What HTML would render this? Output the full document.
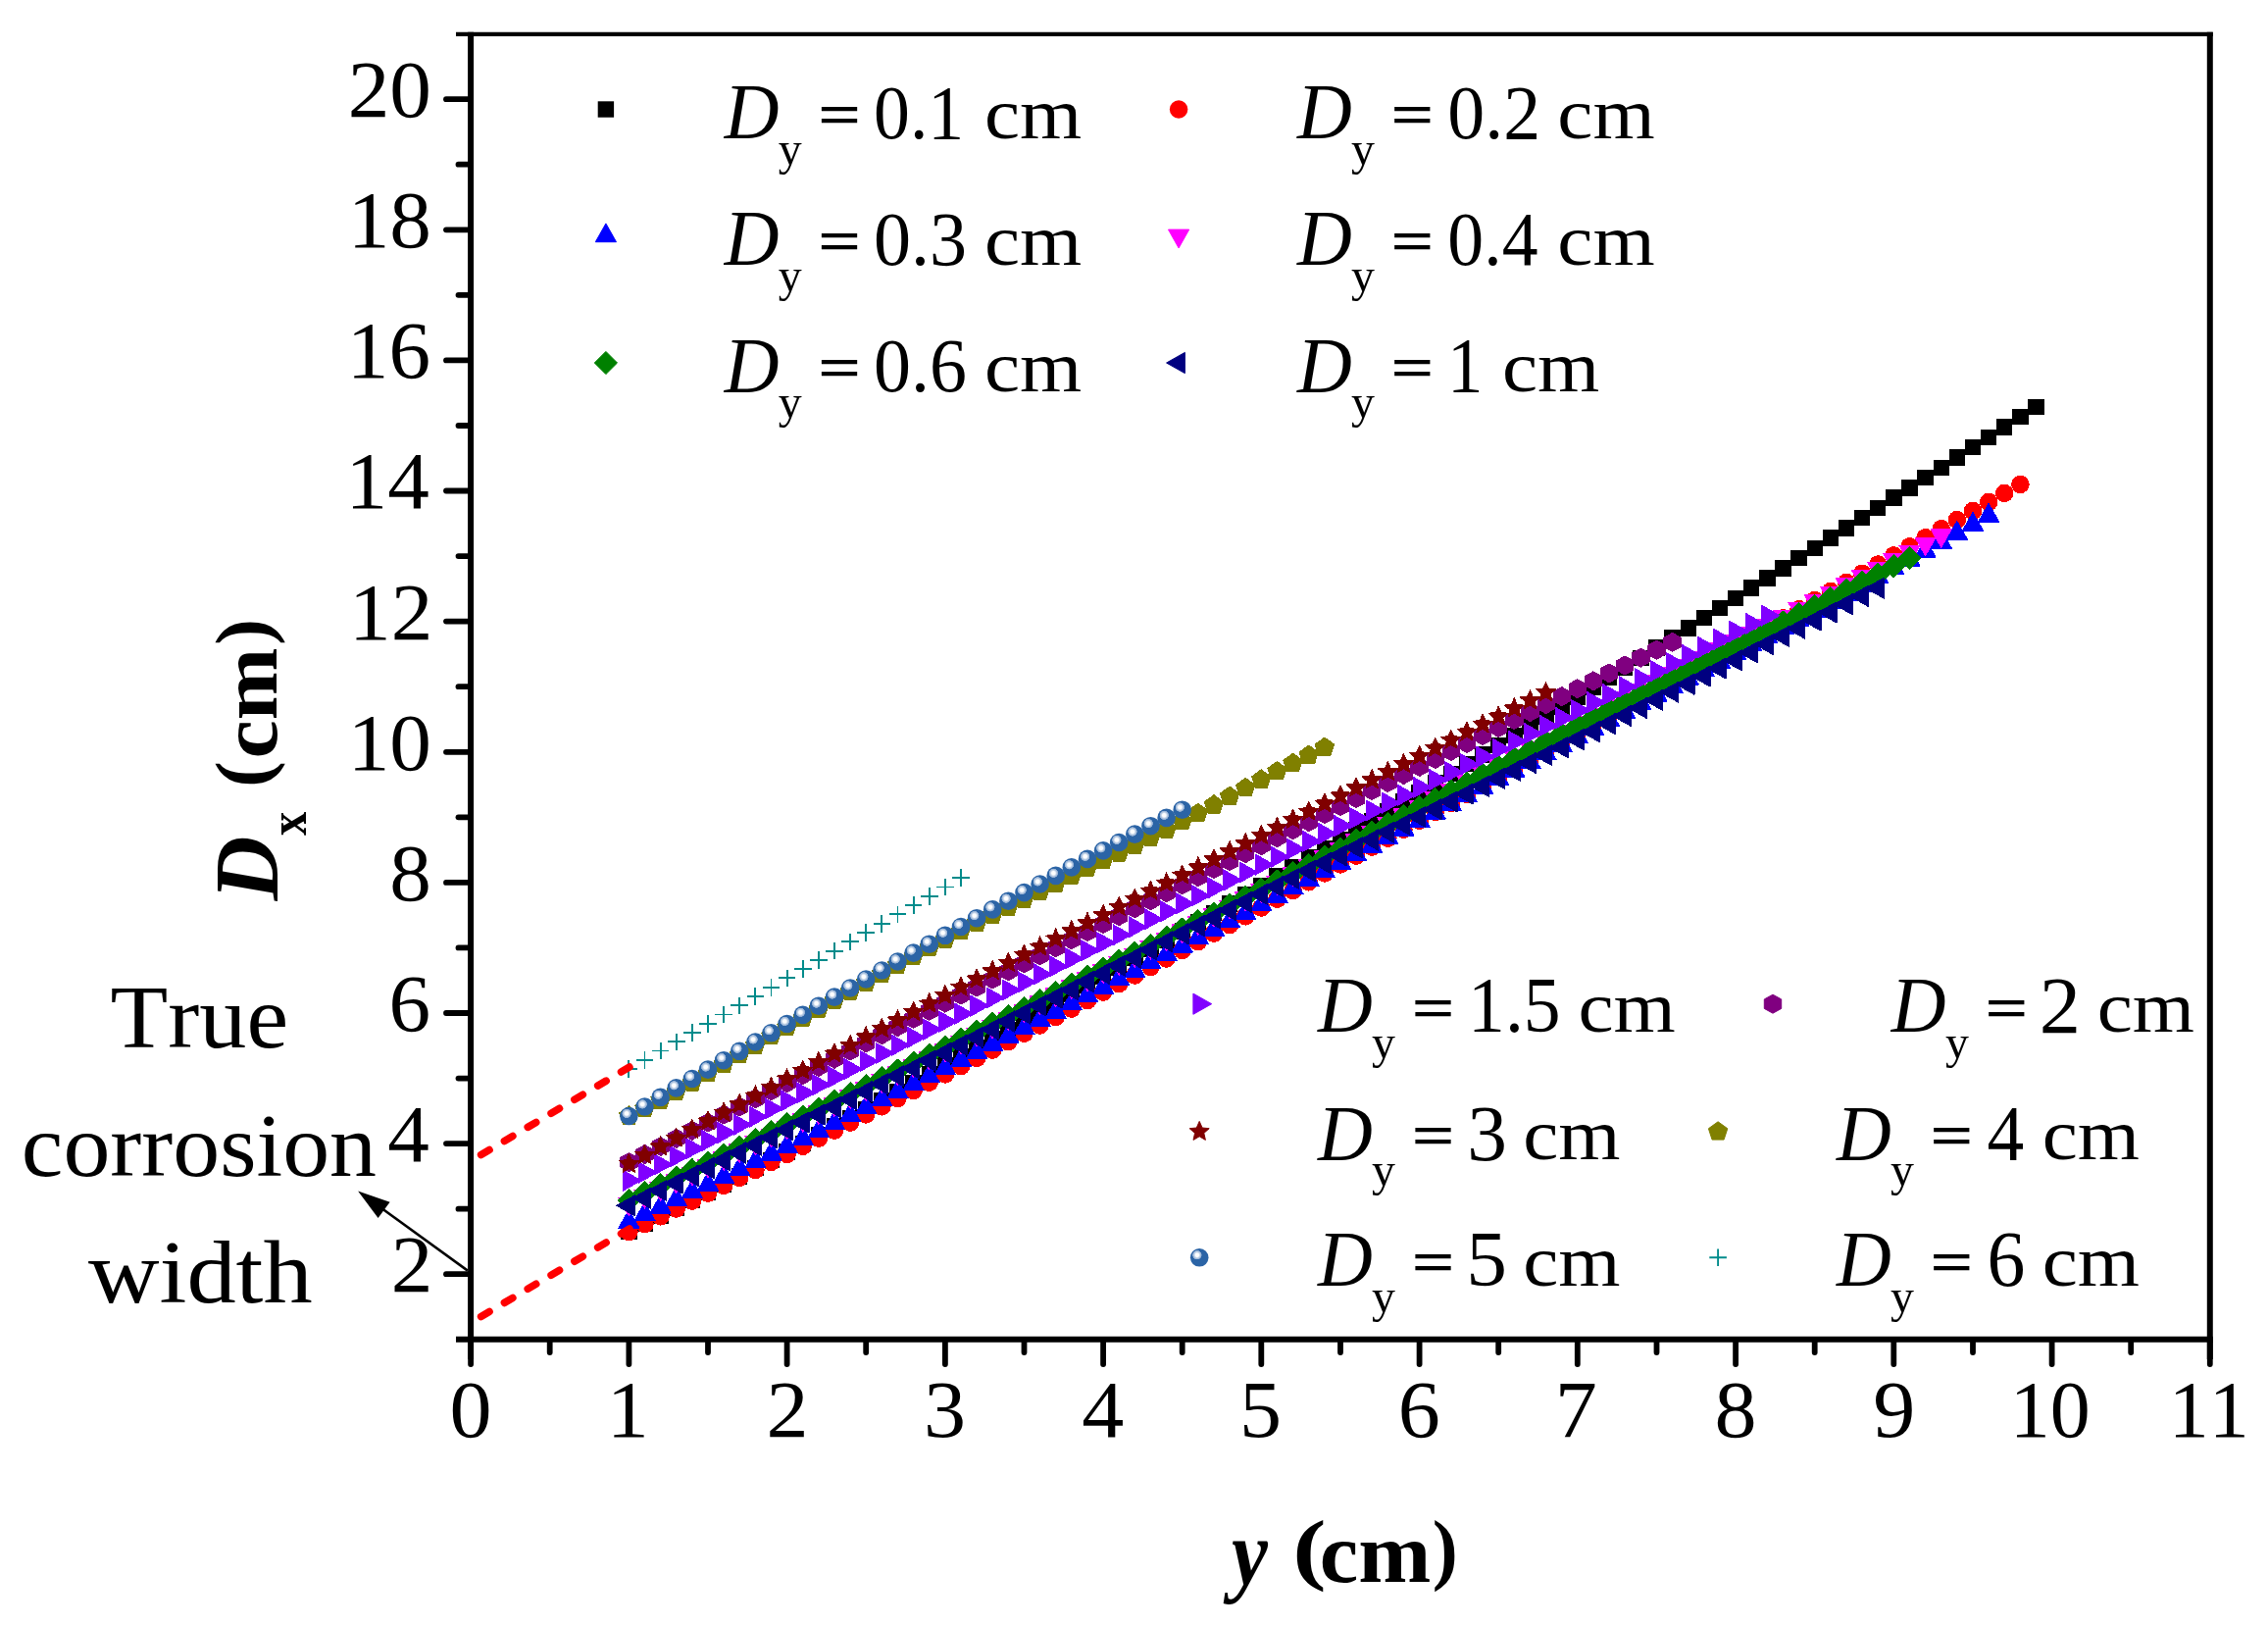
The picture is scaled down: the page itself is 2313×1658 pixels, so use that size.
<!DOCTYPE html>
<html><head><meta charset="utf-8"><title>Dx vs y</title>
<style>html,body{margin:0;padding:0;background:#fff}svg{display:block;font-family:"Liberation Serif",serif;font-kerning:none}</style></head><body>
<svg width="2313" height="1658" viewBox="0 0 2313 1658">
<rect width="2313" height="1658" fill="#fff"/>
<defs><radialGradient id="sg" gradientUnits="objectBoundingBox" cx="0.375" cy="0.36" r="0.26" fx="0.375" fy="0.36"><stop offset="0" stop-color="#ffffff"/><stop offset="0.38" stop-color="#fafcfe"/><stop offset="0.5" stop-color="#dbe5f1"/><stop offset="0.7" stop-color="#b0c5e0"/><stop offset="0.92" stop-color="#8eacd2"/><stop offset="1" stop-color="#2b64a6"/></radialGradient></defs>
<g shape-rendering="crispEdges">
<g><rect x="633.1" y="1247.4" width="16.4" height="16.4" fill="#000000"/><rect x="649.3" y="1239.6" width="16.4" height="16.4" fill="#000000"/><rect x="665.4" y="1231.8" width="16.4" height="16.4" fill="#000000"/><rect x="681.5" y="1223.8" width="16.4" height="16.4" fill="#000000"/><rect x="697.6" y="1215.8" width="16.4" height="16.4" fill="#000000"/><rect x="713.8" y="1207.7" width="16.4" height="16.4" fill="#000000"/><rect x="729.9" y="1199.5" width="16.4" height="16.4" fill="#000000"/><rect x="746.0" y="1191.3" width="16.4" height="16.4" fill="#000000"/><rect x="762.1" y="1183.0" width="16.4" height="16.4" fill="#000000"/><rect x="778.3" y="1174.7" width="16.4" height="16.4" fill="#000000"/><rect x="794.4" y="1166.2" width="16.4" height="16.4" fill="#000000"/><rect x="810.5" y="1157.7" width="16.4" height="16.4" fill="#000000"/><rect x="826.7" y="1149.1" width="16.4" height="16.4" fill="#000000"/><rect x="842.8" y="1140.4" width="16.4" height="16.4" fill="#000000"/><rect x="858.9" y="1131.6" width="16.4" height="16.4" fill="#000000"/><rect x="875.0" y="1122.8" width="16.4" height="16.4" fill="#000000"/><rect x="891.1" y="1113.9" width="16.4" height="16.4" fill="#000000"/><rect x="907.3" y="1105.0" width="16.4" height="16.4" fill="#000000"/><rect x="923.4" y="1096.0" width="16.4" height="16.4" fill="#000000"/><rect x="939.5" y="1087.0" width="16.4" height="16.4" fill="#000000"/><rect x="955.6" y="1078.0" width="16.4" height="16.4" fill="#000000"/><rect x="971.8" y="1069.1" width="16.4" height="16.4" fill="#000000"/><rect x="987.9" y="1060.1" width="16.4" height="16.4" fill="#000000"/><rect x="1004.0" y="1051.0" width="16.4" height="16.4" fill="#000000"/><rect x="1020.2" y="1042.0" width="16.4" height="16.4" fill="#000000"/><rect x="1036.3" y="1032.9" width="16.4" height="16.4" fill="#000000"/><rect x="1052.4" y="1023.9" width="16.4" height="16.4" fill="#000000"/><rect x="1068.5" y="1014.8" width="16.4" height="16.4" fill="#000000"/><rect x="1084.6" y="1005.6" width="16.4" height="16.4" fill="#000000"/><rect x="1100.8" y="996.5" width="16.4" height="16.4" fill="#000000"/><rect x="1116.9" y="987.3" width="16.4" height="16.4" fill="#000000"/><rect x="1133.0" y="978.2" width="16.4" height="16.4" fill="#000000"/><rect x="1149.1" y="969.0" width="16.4" height="16.4" fill="#000000"/><rect x="1165.3" y="959.7" width="16.4" height="16.4" fill="#000000"/><rect x="1181.4" y="950.5" width="16.4" height="16.4" fill="#000000"/><rect x="1197.5" y="941.2" width="16.4" height="16.4" fill="#000000"/><rect x="1213.6" y="932.0" width="16.4" height="16.4" fill="#000000"/><rect x="1229.8" y="922.7" width="16.4" height="16.4" fill="#000000"/><rect x="1245.9" y="913.3" width="16.4" height="16.4" fill="#000000"/><rect x="1262.0" y="904.0" width="16.4" height="16.4" fill="#000000"/><rect x="1278.1" y="894.6" width="16.4" height="16.4" fill="#000000"/><rect x="1294.3" y="885.2" width="16.4" height="16.4" fill="#000000"/><rect x="1310.4" y="875.8" width="16.4" height="16.4" fill="#000000"/><rect x="1326.5" y="866.4" width="16.4" height="16.4" fill="#000000"/><rect x="1342.7" y="856.9" width="16.4" height="16.4" fill="#000000"/><rect x="1358.8" y="847.5" width="16.4" height="16.4" fill="#000000"/><rect x="1374.9" y="838.0" width="16.4" height="16.4" fill="#000000"/><rect x="1391.0" y="828.5" width="16.4" height="16.4" fill="#000000"/><rect x="1407.2" y="819.0" width="16.4" height="16.4" fill="#000000"/><rect x="1423.3" y="809.4" width="16.4" height="16.4" fill="#000000"/><rect x="1439.4" y="799.9" width="16.4" height="16.4" fill="#000000"/><rect x="1455.5" y="790.3" width="16.4" height="16.4" fill="#000000"/><rect x="1471.6" y="780.6" width="16.4" height="16.4" fill="#000000"/><rect x="1487.8" y="771.0" width="16.4" height="16.4" fill="#000000"/><rect x="1503.9" y="761.3" width="16.4" height="16.4" fill="#000000"/><rect x="1520.0" y="751.6" width="16.4" height="16.4" fill="#000000"/><rect x="1536.1" y="741.9" width="16.4" height="16.4" fill="#000000"/><rect x="1552.3" y="732.1" width="16.4" height="16.4" fill="#000000"/><rect x="1568.4" y="722.3" width="16.4" height="16.4" fill="#000000"/><rect x="1584.5" y="712.5" width="16.4" height="16.4" fill="#000000"/><rect x="1600.6" y="702.6" width="16.4" height="16.4" fill="#000000"/><rect x="1616.8" y="692.7" width="16.4" height="16.4" fill="#000000"/><rect x="1632.9" y="682.7" width="16.4" height="16.4" fill="#000000"/><rect x="1649.0" y="672.7" width="16.4" height="16.4" fill="#000000"/><rect x="1665.1" y="662.6" width="16.4" height="16.4" fill="#000000"/><rect x="1681.3" y="652.4" width="16.4" height="16.4" fill="#000000"/><rect x="1697.4" y="642.3" width="16.4" height="16.4" fill="#000000"/><rect x="1713.5" y="632.1" width="16.4" height="16.4" fill="#000000"/><rect x="1729.7" y="621.9" width="16.4" height="16.4" fill="#000000"/><rect x="1745.8" y="611.8" width="16.4" height="16.4" fill="#000000"/><rect x="1761.9" y="601.6" width="16.4" height="16.4" fill="#000000"/><rect x="1778.0" y="591.4" width="16.4" height="16.4" fill="#000000"/><rect x="1794.1" y="581.2" width="16.4" height="16.4" fill="#000000"/><rect x="1810.3" y="571.1" width="16.4" height="16.4" fill="#000000"/><rect x="1826.4" y="560.8" width="16.4" height="16.4" fill="#000000"/><rect x="1842.5" y="550.6" width="16.4" height="16.4" fill="#000000"/><rect x="1858.7" y="540.4" width="16.4" height="16.4" fill="#000000"/><rect x="1874.8" y="530.2" width="16.4" height="16.4" fill="#000000"/><rect x="1890.9" y="519.9" width="16.4" height="16.4" fill="#000000"/><rect x="1907.0" y="509.7" width="16.4" height="16.4" fill="#000000"/><rect x="1923.1" y="499.4" width="16.4" height="16.4" fill="#000000"/><rect x="1939.3" y="489.1" width="16.4" height="16.4" fill="#000000"/><rect x="1955.4" y="478.8" width="16.4" height="16.4" fill="#000000"/><rect x="1971.5" y="468.5" width="16.4" height="16.4" fill="#000000"/><rect x="1987.6" y="458.2" width="16.4" height="16.4" fill="#000000"/><rect x="2003.8" y="447.9" width="16.4" height="16.4" fill="#000000"/><rect x="2019.9" y="437.6" width="16.4" height="16.4" fill="#000000"/><rect x="2036.0" y="427.2" width="16.4" height="16.4" fill="#000000"/><rect x="2052.2" y="416.8" width="16.4" height="16.4" fill="#000000"/><rect x="2068.3" y="406.5" width="16.4" height="16.4" fill="#000000"/></g>
<g><circle cx="641.4" cy="1256.0" r="9.25" fill="#ff0000"/><circle cx="657.5" cy="1248.2" r="9.25" fill="#ff0000"/><circle cx="673.6" cy="1240.3" r="9.25" fill="#ff0000"/><circle cx="689.7" cy="1232.5" r="9.25" fill="#ff0000"/><circle cx="705.9" cy="1224.6" r="9.25" fill="#ff0000"/><circle cx="722.0" cy="1216.7" r="9.25" fill="#ff0000"/><circle cx="738.1" cy="1208.8" r="9.25" fill="#ff0000"/><circle cx="754.2" cy="1200.8" r="9.25" fill="#ff0000"/><circle cx="770.4" cy="1192.9" r="9.25" fill="#ff0000"/><circle cx="786.5" cy="1184.9" r="9.25" fill="#ff0000"/><circle cx="802.6" cy="1176.9" r="9.25" fill="#ff0000"/><circle cx="818.7" cy="1168.8" r="9.25" fill="#ff0000"/><circle cx="834.9" cy="1160.7" r="9.25" fill="#ff0000"/><circle cx="851.0" cy="1152.7" r="9.25" fill="#ff0000"/><circle cx="867.1" cy="1144.6" r="9.25" fill="#ff0000"/><circle cx="883.2" cy="1136.4" r="9.25" fill="#ff0000"/><circle cx="899.4" cy="1128.3" r="9.25" fill="#ff0000"/><circle cx="915.5" cy="1120.1" r="9.25" fill="#ff0000"/><circle cx="931.6" cy="1111.9" r="9.25" fill="#ff0000"/><circle cx="947.7" cy="1103.7" r="9.25" fill="#ff0000"/><circle cx="963.9" cy="1095.4" r="9.25" fill="#ff0000"/><circle cx="980.0" cy="1087.2" r="9.25" fill="#ff0000"/><circle cx="996.1" cy="1078.9" r="9.25" fill="#ff0000"/><circle cx="1012.2" cy="1070.6" r="9.25" fill="#ff0000"/><circle cx="1028.4" cy="1062.2" r="9.25" fill="#ff0000"/><circle cx="1044.5" cy="1053.8" r="9.25" fill="#ff0000"/><circle cx="1060.6" cy="1045.5" r="9.25" fill="#ff0000"/><circle cx="1076.7" cy="1037.0" r="9.25" fill="#ff0000"/><circle cx="1092.8" cy="1028.6" r="9.25" fill="#ff0000"/><circle cx="1109.0" cy="1020.1" r="9.25" fill="#ff0000"/><circle cx="1125.1" cy="1011.6" r="9.25" fill="#ff0000"/><circle cx="1141.2" cy="1003.1" r="9.25" fill="#ff0000"/><circle cx="1157.3" cy="994.6" r="9.25" fill="#ff0000"/><circle cx="1173.5" cy="986.0" r="9.25" fill="#ff0000"/><circle cx="1189.6" cy="977.5" r="9.25" fill="#ff0000"/><circle cx="1205.7" cy="968.9" r="9.25" fill="#ff0000"/><circle cx="1221.8" cy="960.3" r="9.25" fill="#ff0000"/><circle cx="1238.0" cy="951.6" r="9.25" fill="#ff0000"/><circle cx="1254.1" cy="943.0" r="9.25" fill="#ff0000"/><circle cx="1270.2" cy="934.3" r="9.25" fill="#ff0000"/><circle cx="1286.3" cy="925.6" r="9.25" fill="#ff0000"/><circle cx="1302.5" cy="916.8" r="9.25" fill="#ff0000"/><circle cx="1318.6" cy="908.1" r="9.25" fill="#ff0000"/><circle cx="1334.7" cy="899.3" r="9.25" fill="#ff0000"/><circle cx="1350.9" cy="890.4" r="9.25" fill="#ff0000"/><circle cx="1367.0" cy="881.5" r="9.25" fill="#ff0000"/><circle cx="1383.1" cy="872.6" r="9.25" fill="#ff0000"/><circle cx="1399.2" cy="863.7" r="9.25" fill="#ff0000"/><circle cx="1415.4" cy="854.7" r="9.25" fill="#ff0000"/><circle cx="1431.5" cy="845.8" r="9.25" fill="#ff0000"/><circle cx="1447.6" cy="836.8" r="9.25" fill="#ff0000"/><circle cx="1463.7" cy="827.8" r="9.25" fill="#ff0000"/><circle cx="1479.8" cy="818.8" r="9.25" fill="#ff0000"/><circle cx="1496.0" cy="809.8" r="9.25" fill="#ff0000"/><circle cx="1512.1" cy="800.7" r="9.25" fill="#ff0000"/><circle cx="1528.2" cy="791.7" r="9.25" fill="#ff0000"/><circle cx="1544.3" cy="782.7" r="9.25" fill="#ff0000"/><circle cx="1560.5" cy="773.7" r="9.25" fill="#ff0000"/><circle cx="1576.6" cy="764.7" r="9.25" fill="#ff0000"/><circle cx="1592.7" cy="755.8" r="9.25" fill="#ff0000"/><circle cx="1608.8" cy="746.8" r="9.25" fill="#ff0000"/><circle cx="1625.0" cy="737.8" r="9.25" fill="#ff0000"/><circle cx="1641.1" cy="728.9" r="9.25" fill="#ff0000"/><circle cx="1657.2" cy="720.0" r="9.25" fill="#ff0000"/><circle cx="1673.3" cy="711.0" r="9.25" fill="#ff0000"/><circle cx="1689.5" cy="702.1" r="9.25" fill="#ff0000"/><circle cx="1705.6" cy="693.2" r="9.25" fill="#ff0000"/><circle cx="1721.7" cy="684.2" r="9.25" fill="#ff0000"/><circle cx="1737.9" cy="675.3" r="9.25" fill="#ff0000"/><circle cx="1754.0" cy="666.3" r="9.25" fill="#ff0000"/><circle cx="1770.1" cy="657.4" r="9.25" fill="#ff0000"/><circle cx="1786.2" cy="648.4" r="9.25" fill="#ff0000"/><circle cx="1802.3" cy="639.4" r="9.25" fill="#ff0000"/><circle cx="1818.5" cy="630.3" r="9.25" fill="#ff0000"/><circle cx="1834.6" cy="621.2" r="9.25" fill="#ff0000"/><circle cx="1850.7" cy="612.1" r="9.25" fill="#ff0000"/><circle cx="1866.9" cy="603.0" r="9.25" fill="#ff0000"/><circle cx="1883.0" cy="593.8" r="9.25" fill="#ff0000"/><circle cx="1899.1" cy="584.7" r="9.25" fill="#ff0000"/><circle cx="1915.2" cy="575.5" r="9.25" fill="#ff0000"/><circle cx="1931.3" cy="566.4" r="9.25" fill="#ff0000"/><circle cx="1947.5" cy="557.3" r="9.25" fill="#ff0000"/><circle cx="1963.6" cy="548.2" r="9.25" fill="#ff0000"/><circle cx="1979.7" cy="539.2" r="9.25" fill="#ff0000"/><circle cx="1995.8" cy="530.1" r="9.25" fill="#ff0000"/><circle cx="2012.0" cy="521.0" r="9.25" fill="#ff0000"/><circle cx="2028.1" cy="512.0" r="9.25" fill="#ff0000"/><circle cx="2044.2" cy="502.9" r="9.25" fill="#ff0000"/><circle cx="2060.4" cy="493.9" r="9.25" fill="#ff0000"/></g>
<g><polygon points="641.4,1233.5 630.8,1252.3 652.0,1252.3" fill="#0000ff" stroke="#0000ff" stroke-width="1" stroke-linejoin="round"/><polygon points="657.5,1225.9 646.9,1244.7 668.1,1244.7" fill="#0000ff" stroke="#0000ff" stroke-width="1" stroke-linejoin="round"/><polygon points="673.6,1218.3 663.0,1237.1 684.2,1237.1" fill="#0000ff" stroke="#0000ff" stroke-width="1" stroke-linejoin="round"/><polygon points="689.7,1210.6 679.1,1229.4 700.3,1229.4" fill="#0000ff" stroke="#0000ff" stroke-width="1" stroke-linejoin="round"/><polygon points="705.9,1203.0 695.2,1221.8 716.5,1221.8" fill="#0000ff" stroke="#0000ff" stroke-width="1" stroke-linejoin="round"/><polygon points="722.0,1195.3 711.4,1214.1 732.6,1214.1" fill="#0000ff" stroke="#0000ff" stroke-width="1" stroke-linejoin="round"/><polygon points="738.1,1187.6 727.5,1206.4 748.7,1206.4" fill="#0000ff" stroke="#0000ff" stroke-width="1" stroke-linejoin="round"/><polygon points="754.2,1179.8 743.6,1198.6 764.8,1198.6" fill="#0000ff" stroke="#0000ff" stroke-width="1" stroke-linejoin="round"/><polygon points="770.4,1172.1 759.8,1190.9 781.0,1190.9" fill="#0000ff" stroke="#0000ff" stroke-width="1" stroke-linejoin="round"/><polygon points="786.5,1164.3 775.9,1183.1 797.1,1183.1" fill="#0000ff" stroke="#0000ff" stroke-width="1" stroke-linejoin="round"/><polygon points="802.6,1156.5 792.0,1175.3 813.2,1175.3" fill="#0000ff" stroke="#0000ff" stroke-width="1" stroke-linejoin="round"/><polygon points="818.7,1148.6 808.1,1167.4 829.3,1167.4" fill="#0000ff" stroke="#0000ff" stroke-width="1" stroke-linejoin="round"/><polygon points="834.9,1140.8 824.3,1159.6 845.5,1159.6" fill="#0000ff" stroke="#0000ff" stroke-width="1" stroke-linejoin="round"/><polygon points="851.0,1132.9 840.4,1151.7 861.6,1151.7" fill="#0000ff" stroke="#0000ff" stroke-width="1" stroke-linejoin="round"/><polygon points="867.1,1124.9 856.5,1143.7 877.7,1143.7" fill="#0000ff" stroke="#0000ff" stroke-width="1" stroke-linejoin="round"/><polygon points="883.2,1117.0 872.6,1135.8 893.8,1135.8" fill="#0000ff" stroke="#0000ff" stroke-width="1" stroke-linejoin="round"/><polygon points="899.4,1109.0 888.8,1127.8 910.0,1127.8" fill="#0000ff" stroke="#0000ff" stroke-width="1" stroke-linejoin="round"/><polygon points="915.5,1101.0 904.9,1119.8 926.1,1119.8" fill="#0000ff" stroke="#0000ff" stroke-width="1" stroke-linejoin="round"/><polygon points="931.6,1093.0 921.0,1111.8 942.2,1111.8" fill="#0000ff" stroke="#0000ff" stroke-width="1" stroke-linejoin="round"/><polygon points="947.7,1085.0 937.1,1103.8 958.3,1103.8" fill="#0000ff" stroke="#0000ff" stroke-width="1" stroke-linejoin="round"/><polygon points="963.9,1076.9 953.2,1095.7 974.5,1095.7" fill="#0000ff" stroke="#0000ff" stroke-width="1" stroke-linejoin="round"/><polygon points="980.0,1068.8 969.4,1087.6 990.6,1087.6" fill="#0000ff" stroke="#0000ff" stroke-width="1" stroke-linejoin="round"/><polygon points="996.1,1060.7 985.5,1079.5 1006.7,1079.5" fill="#0000ff" stroke="#0000ff" stroke-width="1" stroke-linejoin="round"/><polygon points="1012.2,1052.5 1001.6,1071.3 1022.8,1071.3" fill="#0000ff" stroke="#0000ff" stroke-width="1" stroke-linejoin="round"/><polygon points="1028.4,1044.3 1017.8,1063.1 1039.0,1063.1" fill="#0000ff" stroke="#0000ff" stroke-width="1" stroke-linejoin="round"/><polygon points="1044.5,1036.0 1033.9,1054.8 1055.1,1054.8" fill="#0000ff" stroke="#0000ff" stroke-width="1" stroke-linejoin="round"/><polygon points="1060.6,1027.7 1050.0,1046.5 1071.2,1046.5" fill="#0000ff" stroke="#0000ff" stroke-width="1" stroke-linejoin="round"/><polygon points="1076.7,1019.4 1066.1,1038.2 1087.3,1038.2" fill="#0000ff" stroke="#0000ff" stroke-width="1" stroke-linejoin="round"/><polygon points="1092.8,1011.1 1082.2,1029.9 1103.4,1029.9" fill="#0000ff" stroke="#0000ff" stroke-width="1" stroke-linejoin="round"/><polygon points="1109.0,1002.7 1098.4,1021.5 1119.6,1021.5" fill="#0000ff" stroke="#0000ff" stroke-width="1" stroke-linejoin="round"/><polygon points="1125.1,994.4 1114.5,1013.2 1135.7,1013.2" fill="#0000ff" stroke="#0000ff" stroke-width="1" stroke-linejoin="round"/><polygon points="1141.2,986.0 1130.6,1004.8 1151.8,1004.8" fill="#0000ff" stroke="#0000ff" stroke-width="1" stroke-linejoin="round"/><polygon points="1157.3,977.6 1146.8,996.4 1167.9,996.4" fill="#0000ff" stroke="#0000ff" stroke-width="1" stroke-linejoin="round"/><polygon points="1173.5,969.1 1162.9,987.9 1184.1,987.9" fill="#0000ff" stroke="#0000ff" stroke-width="1" stroke-linejoin="round"/><polygon points="1189.6,960.7 1179.0,979.5 1200.2,979.5" fill="#0000ff" stroke="#0000ff" stroke-width="1" stroke-linejoin="round"/><polygon points="1205.7,952.2 1195.1,971.0 1216.3,971.0" fill="#0000ff" stroke="#0000ff" stroke-width="1" stroke-linejoin="round"/><polygon points="1221.8,943.8 1211.2,962.6 1232.4,962.6" fill="#0000ff" stroke="#0000ff" stroke-width="1" stroke-linejoin="round"/><polygon points="1238.0,935.3 1227.4,954.1 1248.6,954.1" fill="#0000ff" stroke="#0000ff" stroke-width="1" stroke-linejoin="round"/><polygon points="1254.1,926.9 1243.5,945.7 1264.7,945.7" fill="#0000ff" stroke="#0000ff" stroke-width="1" stroke-linejoin="round"/><polygon points="1270.2,918.4 1259.6,937.2 1280.8,937.2" fill="#0000ff" stroke="#0000ff" stroke-width="1" stroke-linejoin="round"/><polygon points="1286.3,910.0 1275.8,928.8 1296.9,928.8" fill="#0000ff" stroke="#0000ff" stroke-width="1" stroke-linejoin="round"/><polygon points="1302.5,901.5 1291.9,920.3 1313.1,920.3" fill="#0000ff" stroke="#0000ff" stroke-width="1" stroke-linejoin="round"/><polygon points="1318.6,893.0 1308.0,911.8 1329.2,911.8" fill="#0000ff" stroke="#0000ff" stroke-width="1" stroke-linejoin="round"/><polygon points="1334.7,884.6 1324.1,903.4 1345.3,903.4" fill="#0000ff" stroke="#0000ff" stroke-width="1" stroke-linejoin="round"/><polygon points="1350.9,876.0 1340.3,894.8 1361.5,894.8" fill="#0000ff" stroke="#0000ff" stroke-width="1" stroke-linejoin="round"/><polygon points="1367.0,867.5 1356.4,886.3 1377.6,886.3" fill="#0000ff" stroke="#0000ff" stroke-width="1" stroke-linejoin="round"/><polygon points="1383.1,859.0 1372.5,877.8 1393.7,877.8" fill="#0000ff" stroke="#0000ff" stroke-width="1" stroke-linejoin="round"/><polygon points="1399.2,850.4 1388.6,869.2 1409.8,869.2" fill="#0000ff" stroke="#0000ff" stroke-width="1" stroke-linejoin="round"/><polygon points="1415.4,841.9 1404.8,860.7 1426.0,860.7" fill="#0000ff" stroke="#0000ff" stroke-width="1" stroke-linejoin="round"/><polygon points="1431.5,833.3 1420.9,852.1 1442.1,852.1" fill="#0000ff" stroke="#0000ff" stroke-width="1" stroke-linejoin="round"/><polygon points="1447.6,824.7 1437.0,843.5 1458.2,843.5" fill="#0000ff" stroke="#0000ff" stroke-width="1" stroke-linejoin="round"/><polygon points="1463.7,816.2 1453.1,835.0 1474.3,835.0" fill="#0000ff" stroke="#0000ff" stroke-width="1" stroke-linejoin="round"/><polygon points="1479.8,807.6 1469.2,826.4 1490.4,826.4" fill="#0000ff" stroke="#0000ff" stroke-width="1" stroke-linejoin="round"/><polygon points="1496.0,799.0 1485.4,817.8 1506.6,817.8" fill="#0000ff" stroke="#0000ff" stroke-width="1" stroke-linejoin="round"/><polygon points="1512.1,790.4 1501.5,809.2 1522.7,809.2" fill="#0000ff" stroke="#0000ff" stroke-width="1" stroke-linejoin="round"/><polygon points="1528.2,781.8 1517.6,800.6 1538.8,800.6" fill="#0000ff" stroke="#0000ff" stroke-width="1" stroke-linejoin="round"/><polygon points="1544.3,773.2 1533.8,792.0 1554.9,792.0" fill="#0000ff" stroke="#0000ff" stroke-width="1" stroke-linejoin="round"/><polygon points="1560.5,764.6 1549.9,783.4 1571.1,783.4" fill="#0000ff" stroke="#0000ff" stroke-width="1" stroke-linejoin="round"/><polygon points="1576.6,756.1 1566.0,774.9 1587.2,774.9" fill="#0000ff" stroke="#0000ff" stroke-width="1" stroke-linejoin="round"/><polygon points="1592.7,747.5 1582.1,766.3 1603.3,766.3" fill="#0000ff" stroke="#0000ff" stroke-width="1" stroke-linejoin="round"/><polygon points="1608.8,738.9 1598.2,757.7 1619.4,757.7" fill="#0000ff" stroke="#0000ff" stroke-width="1" stroke-linejoin="round"/><polygon points="1625.0,730.4 1614.4,749.2 1635.6,749.2" fill="#0000ff" stroke="#0000ff" stroke-width="1" stroke-linejoin="round"/><polygon points="1641.1,721.8 1630.5,740.6 1651.7,740.6" fill="#0000ff" stroke="#0000ff" stroke-width="1" stroke-linejoin="round"/><polygon points="1657.2,713.3 1646.6,732.1 1667.8,732.1" fill="#0000ff" stroke="#0000ff" stroke-width="1" stroke-linejoin="round"/><polygon points="1673.3,704.8 1662.8,723.6 1683.9,723.6" fill="#0000ff" stroke="#0000ff" stroke-width="1" stroke-linejoin="round"/><polygon points="1689.5,696.2 1678.9,715.0 1700.1,715.0" fill="#0000ff" stroke="#0000ff" stroke-width="1" stroke-linejoin="round"/><polygon points="1705.6,687.7 1695.0,706.5 1716.2,706.5" fill="#0000ff" stroke="#0000ff" stroke-width="1" stroke-linejoin="round"/><polygon points="1721.7,679.2 1711.1,698.0 1732.3,698.0" fill="#0000ff" stroke="#0000ff" stroke-width="1" stroke-linejoin="round"/><polygon points="1737.9,670.7 1727.3,689.5 1748.5,689.5" fill="#0000ff" stroke="#0000ff" stroke-width="1" stroke-linejoin="round"/><polygon points="1754.0,662.2 1743.4,681.0 1764.6,681.0" fill="#0000ff" stroke="#0000ff" stroke-width="1" stroke-linejoin="round"/><polygon points="1770.1,653.6 1759.5,672.4 1780.7,672.4" fill="#0000ff" stroke="#0000ff" stroke-width="1" stroke-linejoin="round"/><polygon points="1786.2,645.1 1775.6,663.9 1796.8,663.9" fill="#0000ff" stroke="#0000ff" stroke-width="1" stroke-linejoin="round"/><polygon points="1802.3,636.5 1791.8,655.3 1812.9,655.3" fill="#0000ff" stroke="#0000ff" stroke-width="1" stroke-linejoin="round"/><polygon points="1818.5,627.9 1807.9,646.7 1829.1,646.7" fill="#0000ff" stroke="#0000ff" stroke-width="1" stroke-linejoin="round"/><polygon points="1834.6,619.3 1824.0,638.1 1845.2,638.1" fill="#0000ff" stroke="#0000ff" stroke-width="1" stroke-linejoin="round"/><polygon points="1850.7,610.7 1840.1,629.5 1861.3,629.5" fill="#0000ff" stroke="#0000ff" stroke-width="1" stroke-linejoin="round"/><polygon points="1866.9,602.0 1856.3,620.8 1877.5,620.8" fill="#0000ff" stroke="#0000ff" stroke-width="1" stroke-linejoin="round"/><polygon points="1883.0,593.3 1872.4,612.1 1893.6,612.1" fill="#0000ff" stroke="#0000ff" stroke-width="1" stroke-linejoin="round"/><polygon points="1899.1,584.6 1888.5,603.4 1909.7,603.4" fill="#0000ff" stroke="#0000ff" stroke-width="1" stroke-linejoin="round"/><polygon points="1915.2,575.8 1904.6,594.6 1925.8,594.6" fill="#0000ff" stroke="#0000ff" stroke-width="1" stroke-linejoin="round"/><polygon points="1931.3,567.0 1920.8,585.8 1941.9,585.8" fill="#0000ff" stroke="#0000ff" stroke-width="1" stroke-linejoin="round"/><polygon points="1947.5,558.2 1936.9,577.0 1958.1,577.0" fill="#0000ff" stroke="#0000ff" stroke-width="1" stroke-linejoin="round"/><polygon points="1963.6,549.3 1953.0,568.1 1974.2,568.1" fill="#0000ff" stroke="#0000ff" stroke-width="1" stroke-linejoin="round"/><polygon points="1979.7,540.3 1969.1,559.1 1990.3,559.1" fill="#0000ff" stroke="#0000ff" stroke-width="1" stroke-linejoin="round"/><polygon points="1995.8,531.3 1985.2,550.1 2006.4,550.1" fill="#0000ff" stroke="#0000ff" stroke-width="1" stroke-linejoin="round"/><polygon points="2012.0,522.3 2001.4,541.1 2022.6,541.1" fill="#0000ff" stroke="#0000ff" stroke-width="1" stroke-linejoin="round"/><polygon points="2028.1,513.3 2017.5,532.1 2038.7,532.1" fill="#0000ff" stroke="#0000ff" stroke-width="1" stroke-linejoin="round"/></g>
<g><polygon points="641.4,1239.9 630.8,1221.1 652.0,1221.1" fill="#ff00ff" stroke="#ff00ff" stroke-width="1" stroke-linejoin="round"/><polygon points="657.5,1232.2 646.9,1213.4 668.1,1213.4" fill="#ff00ff" stroke="#ff00ff" stroke-width="1" stroke-linejoin="round"/><polygon points="673.6,1224.4 663.0,1205.6 684.2,1205.6" fill="#ff00ff" stroke="#ff00ff" stroke-width="1" stroke-linejoin="round"/><polygon points="689.7,1216.7 679.1,1197.9 700.3,1197.9" fill="#ff00ff" stroke="#ff00ff" stroke-width="1" stroke-linejoin="round"/><polygon points="705.9,1208.9 695.2,1190.1 716.5,1190.1" fill="#ff00ff" stroke="#ff00ff" stroke-width="1" stroke-linejoin="round"/><polygon points="722.0,1201.1 711.4,1182.3 732.6,1182.3" fill="#ff00ff" stroke="#ff00ff" stroke-width="1" stroke-linejoin="round"/><polygon points="738.1,1193.3 727.5,1174.5 748.7,1174.5" fill="#ff00ff" stroke="#ff00ff" stroke-width="1" stroke-linejoin="round"/><polygon points="754.2,1185.5 743.6,1166.7 764.8,1166.7" fill="#ff00ff" stroke="#ff00ff" stroke-width="1" stroke-linejoin="round"/><polygon points="770.4,1177.7 759.8,1158.9 781.0,1158.9" fill="#ff00ff" stroke="#ff00ff" stroke-width="1" stroke-linejoin="round"/><polygon points="786.5,1169.9 775.9,1151.1 797.1,1151.1" fill="#ff00ff" stroke="#ff00ff" stroke-width="1" stroke-linejoin="round"/><polygon points="802.6,1162.0 792.0,1143.2 813.2,1143.2" fill="#ff00ff" stroke="#ff00ff" stroke-width="1" stroke-linejoin="round"/><polygon points="818.7,1154.1 808.1,1135.3 829.3,1135.3" fill="#ff00ff" stroke="#ff00ff" stroke-width="1" stroke-linejoin="round"/><polygon points="834.9,1146.3 824.3,1127.5 845.5,1127.5" fill="#ff00ff" stroke="#ff00ff" stroke-width="1" stroke-linejoin="round"/><polygon points="851.0,1138.4 840.4,1119.6 861.6,1119.6" fill="#ff00ff" stroke="#ff00ff" stroke-width="1" stroke-linejoin="round"/><polygon points="867.1,1130.5 856.5,1111.7 877.7,1111.7" fill="#ff00ff" stroke="#ff00ff" stroke-width="1" stroke-linejoin="round"/><polygon points="883.2,1122.6 872.6,1103.8 893.8,1103.8" fill="#ff00ff" stroke="#ff00ff" stroke-width="1" stroke-linejoin="round"/><polygon points="899.4,1114.6 888.8,1095.8 910.0,1095.8" fill="#ff00ff" stroke="#ff00ff" stroke-width="1" stroke-linejoin="round"/><polygon points="915.5,1106.7 904.9,1087.9 926.1,1087.9" fill="#ff00ff" stroke="#ff00ff" stroke-width="1" stroke-linejoin="round"/><polygon points="931.6,1098.8 921.0,1080.0 942.2,1080.0" fill="#ff00ff" stroke="#ff00ff" stroke-width="1" stroke-linejoin="round"/><polygon points="947.7,1090.8 937.1,1072.0 958.3,1072.0" fill="#ff00ff" stroke="#ff00ff" stroke-width="1" stroke-linejoin="round"/><polygon points="963.9,1082.8 953.2,1064.0 974.5,1064.0" fill="#ff00ff" stroke="#ff00ff" stroke-width="1" stroke-linejoin="round"/><polygon points="980.0,1074.8 969.4,1056.0 990.6,1056.0" fill="#ff00ff" stroke="#ff00ff" stroke-width="1" stroke-linejoin="round"/><polygon points="996.1,1066.8 985.5,1048.0 1006.7,1048.0" fill="#ff00ff" stroke="#ff00ff" stroke-width="1" stroke-linejoin="round"/><polygon points="1012.2,1058.8 1001.6,1040.0 1022.8,1040.0" fill="#ff00ff" stroke="#ff00ff" stroke-width="1" stroke-linejoin="round"/><polygon points="1028.4,1050.8 1017.8,1032.0 1039.0,1032.0" fill="#ff00ff" stroke="#ff00ff" stroke-width="1" stroke-linejoin="round"/><polygon points="1044.5,1042.8 1033.9,1024.0 1055.1,1024.0" fill="#ff00ff" stroke="#ff00ff" stroke-width="1" stroke-linejoin="round"/><polygon points="1060.6,1034.7 1050.0,1015.9 1071.2,1015.9" fill="#ff00ff" stroke="#ff00ff" stroke-width="1" stroke-linejoin="round"/><polygon points="1076.7,1026.7 1066.1,1007.9 1087.3,1007.9" fill="#ff00ff" stroke="#ff00ff" stroke-width="1" stroke-linejoin="round"/><polygon points="1092.8,1018.6 1082.2,999.8 1103.4,999.8" fill="#ff00ff" stroke="#ff00ff" stroke-width="1" stroke-linejoin="round"/><polygon points="1109.0,1010.6 1098.4,991.8 1119.6,991.8" fill="#ff00ff" stroke="#ff00ff" stroke-width="1" stroke-linejoin="round"/><polygon points="1125.1,1002.5 1114.5,983.7 1135.7,983.7" fill="#ff00ff" stroke="#ff00ff" stroke-width="1" stroke-linejoin="round"/><polygon points="1141.2,994.4 1130.6,975.6 1151.8,975.6" fill="#ff00ff" stroke="#ff00ff" stroke-width="1" stroke-linejoin="round"/><polygon points="1157.3,986.2 1146.8,967.4 1167.9,967.4" fill="#ff00ff" stroke="#ff00ff" stroke-width="1" stroke-linejoin="round"/><polygon points="1173.5,978.1 1162.9,959.3 1184.1,959.3" fill="#ff00ff" stroke="#ff00ff" stroke-width="1" stroke-linejoin="round"/><polygon points="1189.6,969.9 1179.0,951.1 1200.2,951.1" fill="#ff00ff" stroke="#ff00ff" stroke-width="1" stroke-linejoin="round"/><polygon points="1205.7,961.7 1195.1,942.9 1216.3,942.9" fill="#ff00ff" stroke="#ff00ff" stroke-width="1" stroke-linejoin="round"/><polygon points="1221.8,953.5 1211.2,934.7 1232.4,934.7" fill="#ff00ff" stroke="#ff00ff" stroke-width="1" stroke-linejoin="round"/><polygon points="1238.0,945.3 1227.4,926.5 1248.6,926.5" fill="#ff00ff" stroke="#ff00ff" stroke-width="1" stroke-linejoin="round"/><polygon points="1254.1,937.0 1243.5,918.2 1264.7,918.2" fill="#ff00ff" stroke="#ff00ff" stroke-width="1" stroke-linejoin="round"/><polygon points="1270.2,928.7 1259.6,909.9 1280.8,909.9" fill="#ff00ff" stroke="#ff00ff" stroke-width="1" stroke-linejoin="round"/><polygon points="1286.3,920.4 1275.8,901.6 1296.9,901.6" fill="#ff00ff" stroke="#ff00ff" stroke-width="1" stroke-linejoin="round"/><polygon points="1302.5,912.0 1291.9,893.2 1313.1,893.2" fill="#ff00ff" stroke="#ff00ff" stroke-width="1" stroke-linejoin="round"/><polygon points="1318.6,903.6 1308.0,884.8 1329.2,884.8" fill="#ff00ff" stroke="#ff00ff" stroke-width="1" stroke-linejoin="round"/><polygon points="1334.7,895.2 1324.1,876.4 1345.3,876.4" fill="#ff00ff" stroke="#ff00ff" stroke-width="1" stroke-linejoin="round"/><polygon points="1350.9,886.7 1340.3,867.9 1361.5,867.9" fill="#ff00ff" stroke="#ff00ff" stroke-width="1" stroke-linejoin="round"/><polygon points="1367.0,878.1 1356.4,859.3 1377.6,859.3" fill="#ff00ff" stroke="#ff00ff" stroke-width="1" stroke-linejoin="round"/><polygon points="1383.1,869.6 1372.5,850.8 1393.7,850.8" fill="#ff00ff" stroke="#ff00ff" stroke-width="1" stroke-linejoin="round"/><polygon points="1399.2,861.0 1388.6,842.2 1409.8,842.2" fill="#ff00ff" stroke="#ff00ff" stroke-width="1" stroke-linejoin="round"/><polygon points="1415.4,852.4 1404.8,833.6 1426.0,833.6" fill="#ff00ff" stroke="#ff00ff" stroke-width="1" stroke-linejoin="round"/><polygon points="1431.5,843.7 1420.9,824.9 1442.1,824.9" fill="#ff00ff" stroke="#ff00ff" stroke-width="1" stroke-linejoin="round"/><polygon points="1447.6,835.1 1437.0,816.3 1458.2,816.3" fill="#ff00ff" stroke="#ff00ff" stroke-width="1" stroke-linejoin="round"/><polygon points="1463.7,826.4 1453.1,807.6 1474.3,807.6" fill="#ff00ff" stroke="#ff00ff" stroke-width="1" stroke-linejoin="round"/><polygon points="1479.8,817.8 1469.2,799.0 1490.4,799.0" fill="#ff00ff" stroke="#ff00ff" stroke-width="1" stroke-linejoin="round"/><polygon points="1496.0,809.2 1485.4,790.4 1506.6,790.4" fill="#ff00ff" stroke="#ff00ff" stroke-width="1" stroke-linejoin="round"/><polygon points="1512.1,800.5 1501.5,781.7 1522.7,781.7" fill="#ff00ff" stroke="#ff00ff" stroke-width="1" stroke-linejoin="round"/><polygon points="1528.2,791.9 1517.6,773.1 1538.8,773.1" fill="#ff00ff" stroke="#ff00ff" stroke-width="1" stroke-linejoin="round"/><polygon points="1544.3,783.3 1533.8,764.5 1554.9,764.5" fill="#ff00ff" stroke="#ff00ff" stroke-width="1" stroke-linejoin="round"/><polygon points="1560.5,774.8 1549.9,756.0 1571.1,756.0" fill="#ff00ff" stroke="#ff00ff" stroke-width="1" stroke-linejoin="round"/><polygon points="1576.6,766.3 1566.0,747.5 1587.2,747.5" fill="#ff00ff" stroke="#ff00ff" stroke-width="1" stroke-linejoin="round"/><polygon points="1592.7,757.8 1582.1,739.0 1603.3,739.0" fill="#ff00ff" stroke="#ff00ff" stroke-width="1" stroke-linejoin="round"/><polygon points="1608.8,749.3 1598.2,730.5 1619.4,730.5" fill="#ff00ff" stroke="#ff00ff" stroke-width="1" stroke-linejoin="round"/><polygon points="1625.0,740.9 1614.4,722.1 1635.6,722.1" fill="#ff00ff" stroke="#ff00ff" stroke-width="1" stroke-linejoin="round"/><polygon points="1641.1,732.6 1630.5,713.8 1651.7,713.8" fill="#ff00ff" stroke="#ff00ff" stroke-width="1" stroke-linejoin="round"/><polygon points="1657.2,724.2 1646.6,705.4 1667.8,705.4" fill="#ff00ff" stroke="#ff00ff" stroke-width="1" stroke-linejoin="round"/><polygon points="1673.3,715.9 1662.8,697.1 1683.9,697.1" fill="#ff00ff" stroke="#ff00ff" stroke-width="1" stroke-linejoin="round"/><polygon points="1689.5,707.6 1678.9,688.8 1700.1,688.8" fill="#ff00ff" stroke="#ff00ff" stroke-width="1" stroke-linejoin="round"/><polygon points="1705.6,699.3 1695.0,680.5 1716.2,680.5" fill="#ff00ff" stroke="#ff00ff" stroke-width="1" stroke-linejoin="round"/><polygon points="1721.7,691.1 1711.1,672.3 1732.3,672.3" fill="#ff00ff" stroke="#ff00ff" stroke-width="1" stroke-linejoin="round"/><polygon points="1737.9,682.8 1727.3,664.0 1748.5,664.0" fill="#ff00ff" stroke="#ff00ff" stroke-width="1" stroke-linejoin="round"/><polygon points="1754.0,674.6 1743.4,655.8 1764.6,655.8" fill="#ff00ff" stroke="#ff00ff" stroke-width="1" stroke-linejoin="round"/><polygon points="1770.1,666.4 1759.5,647.6 1780.7,647.6" fill="#ff00ff" stroke="#ff00ff" stroke-width="1" stroke-linejoin="round"/><polygon points="1786.2,658.1 1775.6,639.3 1796.8,639.3" fill="#ff00ff" stroke="#ff00ff" stroke-width="1" stroke-linejoin="round"/><polygon points="1802.3,649.9 1791.8,631.1 1812.9,631.1" fill="#ff00ff" stroke="#ff00ff" stroke-width="1" stroke-linejoin="round"/><polygon points="1818.5,641.7 1807.9,622.9 1829.1,622.9" fill="#ff00ff" stroke="#ff00ff" stroke-width="1" stroke-linejoin="round"/><polygon points="1834.6,633.4 1824.0,614.6 1845.2,614.6" fill="#ff00ff" stroke="#ff00ff" stroke-width="1" stroke-linejoin="round"/><polygon points="1850.7,625.2 1840.1,606.4 1861.3,606.4" fill="#ff00ff" stroke="#ff00ff" stroke-width="1" stroke-linejoin="round"/><polygon points="1866.9,616.9 1856.3,598.1 1877.5,598.1" fill="#ff00ff" stroke="#ff00ff" stroke-width="1" stroke-linejoin="round"/><polygon points="1883.0,608.6 1872.4,589.8 1893.6,589.8" fill="#ff00ff" stroke="#ff00ff" stroke-width="1" stroke-linejoin="round"/><polygon points="1899.1,600.3 1888.5,581.5 1909.7,581.5" fill="#ff00ff" stroke="#ff00ff" stroke-width="1" stroke-linejoin="round"/><polygon points="1915.2,592.0 1904.6,573.2 1925.8,573.2" fill="#ff00ff" stroke="#ff00ff" stroke-width="1" stroke-linejoin="round"/><polygon points="1931.3,583.6 1920.8,564.8 1941.9,564.8" fill="#ff00ff" stroke="#ff00ff" stroke-width="1" stroke-linejoin="round"/><polygon points="1947.5,575.2 1936.9,556.4 1958.1,556.4" fill="#ff00ff" stroke="#ff00ff" stroke-width="1" stroke-linejoin="round"/><polygon points="1963.6,566.8 1953.0,548.0 1974.2,548.0" fill="#ff00ff" stroke="#ff00ff" stroke-width="1" stroke-linejoin="round"/><polygon points="1979.7,558.3 1969.1,539.5 1990.3,539.5" fill="#ff00ff" stroke="#ff00ff" stroke-width="1" stroke-linejoin="round"/></g>
<g><polygon points="641.4,1212.4 653.0,1224.0 641.4,1235.6 629.8,1224.0" fill="#008000" stroke="#008000" stroke-width="1" stroke-linejoin="round"/><polygon points="657.5,1204.7 669.1,1216.3 657.5,1227.9 645.9,1216.3" fill="#008000" stroke="#008000" stroke-width="1" stroke-linejoin="round"/><polygon points="673.6,1197.0 685.2,1208.6 673.6,1220.2 662.0,1208.6" fill="#008000" stroke="#008000" stroke-width="1" stroke-linejoin="round"/><polygon points="689.7,1189.3 701.3,1200.9 689.7,1212.5 678.1,1200.9" fill="#008000" stroke="#008000" stroke-width="1" stroke-linejoin="round"/><polygon points="705.9,1181.6 717.5,1193.2 705.9,1204.8 694.2,1193.2" fill="#008000" stroke="#008000" stroke-width="1" stroke-linejoin="round"/><polygon points="722.0,1173.9 733.6,1185.5 722.0,1197.1 710.4,1185.5" fill="#008000" stroke="#008000" stroke-width="1" stroke-linejoin="round"/><polygon points="738.1,1166.1 749.7,1177.7 738.1,1189.3 726.5,1177.7" fill="#008000" stroke="#008000" stroke-width="1" stroke-linejoin="round"/><polygon points="754.2,1158.4 765.8,1170.0 754.2,1181.6 742.6,1170.0" fill="#008000" stroke="#008000" stroke-width="1" stroke-linejoin="round"/><polygon points="770.4,1150.6 782.0,1162.2 770.4,1173.8 758.8,1162.2" fill="#008000" stroke="#008000" stroke-width="1" stroke-linejoin="round"/><polygon points="786.5,1142.8 798.1,1154.4 786.5,1166.0 774.9,1154.4" fill="#008000" stroke="#008000" stroke-width="1" stroke-linejoin="round"/><polygon points="802.6,1135.0 814.2,1146.6 802.6,1158.2 791.0,1146.6" fill="#008000" stroke="#008000" stroke-width="1" stroke-linejoin="round"/><polygon points="818.7,1127.2 830.3,1138.8 818.7,1150.4 807.1,1138.8" fill="#008000" stroke="#008000" stroke-width="1" stroke-linejoin="round"/><polygon points="834.9,1119.4 846.5,1131.0 834.9,1142.6 823.3,1131.0" fill="#008000" stroke="#008000" stroke-width="1" stroke-linejoin="round"/><polygon points="851.0,1111.5 862.6,1123.1 851.0,1134.7 839.4,1123.1" fill="#008000" stroke="#008000" stroke-width="1" stroke-linejoin="round"/><polygon points="867.1,1103.7 878.7,1115.3 867.1,1126.9 855.5,1115.3" fill="#008000" stroke="#008000" stroke-width="1" stroke-linejoin="round"/><polygon points="883.2,1095.8 894.8,1107.4 883.2,1119.0 871.6,1107.4" fill="#008000" stroke="#008000" stroke-width="1" stroke-linejoin="round"/><polygon points="899.4,1088.0 911.0,1099.6 899.4,1111.2 887.8,1099.6" fill="#008000" stroke="#008000" stroke-width="1" stroke-linejoin="round"/><polygon points="915.5,1080.1 927.1,1091.7 915.5,1103.3 903.9,1091.7" fill="#008000" stroke="#008000" stroke-width="1" stroke-linejoin="round"/><polygon points="931.6,1072.2 943.2,1083.8 931.6,1095.4 920.0,1083.8" fill="#008000" stroke="#008000" stroke-width="1" stroke-linejoin="round"/><polygon points="947.7,1064.3 959.3,1075.9 947.7,1087.5 936.1,1075.9" fill="#008000" stroke="#008000" stroke-width="1" stroke-linejoin="round"/><polygon points="963.9,1056.3 975.5,1067.9 963.9,1079.5 952.2,1067.9" fill="#008000" stroke="#008000" stroke-width="1" stroke-linejoin="round"/><polygon points="980.0,1048.4 991.6,1060.0 980.0,1071.6 968.4,1060.0" fill="#008000" stroke="#008000" stroke-width="1" stroke-linejoin="round"/><polygon points="996.1,1040.5 1007.7,1052.1 996.1,1063.7 984.5,1052.1" fill="#008000" stroke="#008000" stroke-width="1" stroke-linejoin="round"/><polygon points="1012.2,1032.5 1023.8,1044.1 1012.2,1055.7 1000.6,1044.1" fill="#008000" stroke="#008000" stroke-width="1" stroke-linejoin="round"/><polygon points="1028.4,1024.5 1040.0,1036.1 1028.4,1047.7 1016.8,1036.1" fill="#008000" stroke="#008000" stroke-width="1" stroke-linejoin="round"/><polygon points="1044.5,1016.6 1056.1,1028.2 1044.5,1039.8 1032.9,1028.2" fill="#008000" stroke="#008000" stroke-width="1" stroke-linejoin="round"/><polygon points="1060.6,1008.6 1072.2,1020.2 1060.6,1031.8 1049.0,1020.2" fill="#008000" stroke="#008000" stroke-width="1" stroke-linejoin="round"/><polygon points="1076.7,1000.6 1088.3,1012.2 1076.7,1023.8 1065.1,1012.2" fill="#008000" stroke="#008000" stroke-width="1" stroke-linejoin="round"/><polygon points="1092.8,992.5 1104.4,1004.1 1092.8,1015.7 1081.2,1004.1" fill="#008000" stroke="#008000" stroke-width="1" stroke-linejoin="round"/><polygon points="1109.0,984.5 1120.6,996.1 1109.0,1007.7 1097.4,996.1" fill="#008000" stroke="#008000" stroke-width="1" stroke-linejoin="round"/><polygon points="1125.1,976.5 1136.7,988.1 1125.1,999.7 1113.5,988.1" fill="#008000" stroke="#008000" stroke-width="1" stroke-linejoin="round"/><polygon points="1141.2,968.4 1152.8,980.0 1141.2,991.6 1129.6,980.0" fill="#008000" stroke="#008000" stroke-width="1" stroke-linejoin="round"/><polygon points="1157.3,960.3 1168.9,971.9 1157.3,983.5 1145.8,971.9" fill="#008000" stroke="#008000" stroke-width="1" stroke-linejoin="round"/><polygon points="1173.5,952.3 1185.1,963.9 1173.5,975.5 1161.9,963.9" fill="#008000" stroke="#008000" stroke-width="1" stroke-linejoin="round"/><polygon points="1189.6,944.2 1201.2,955.8 1189.6,967.4 1178.0,955.8" fill="#008000" stroke="#008000" stroke-width="1" stroke-linejoin="round"/><polygon points="1205.7,936.0 1217.3,947.6 1205.7,959.2 1194.1,947.6" fill="#008000" stroke="#008000" stroke-width="1" stroke-linejoin="round"/><polygon points="1221.8,927.9 1233.4,939.5 1221.8,951.1 1210.2,939.5" fill="#008000" stroke="#008000" stroke-width="1" stroke-linejoin="round"/><polygon points="1238.0,919.8 1249.6,931.4 1238.0,943.0 1226.4,931.4" fill="#008000" stroke="#008000" stroke-width="1" stroke-linejoin="round"/><polygon points="1254.1,911.6 1265.7,923.2 1254.1,934.8 1242.5,923.2" fill="#008000" stroke="#008000" stroke-width="1" stroke-linejoin="round"/><polygon points="1270.2,903.5 1281.8,915.1 1270.2,926.7 1258.6,915.1" fill="#008000" stroke="#008000" stroke-width="1" stroke-linejoin="round"/><polygon points="1286.3,895.3 1297.9,906.9 1286.3,918.5 1274.8,906.9" fill="#008000" stroke="#008000" stroke-width="1" stroke-linejoin="round"/><polygon points="1302.5,887.1 1314.1,898.7 1302.5,910.3 1290.9,898.7" fill="#008000" stroke="#008000" stroke-width="1" stroke-linejoin="round"/><polygon points="1318.6,878.8 1330.2,890.4 1318.6,902.0 1307.0,890.4" fill="#008000" stroke="#008000" stroke-width="1" stroke-linejoin="round"/><polygon points="1334.7,870.5 1346.3,882.1 1334.7,893.7 1323.1,882.1" fill="#008000" stroke="#008000" stroke-width="1" stroke-linejoin="round"/><polygon points="1350.9,862.2 1362.5,873.8 1350.9,885.4 1339.3,873.8" fill="#008000" stroke="#008000" stroke-width="1" stroke-linejoin="round"/><polygon points="1367.0,853.9 1378.6,865.5 1367.0,877.1 1355.4,865.5" fill="#008000" stroke="#008000" stroke-width="1" stroke-linejoin="round"/><polygon points="1383.1,845.5 1394.7,857.1 1383.1,868.7 1371.5,857.1" fill="#008000" stroke="#008000" stroke-width="1" stroke-linejoin="round"/><polygon points="1399.2,837.2 1410.8,848.8 1399.2,860.4 1387.6,848.8" fill="#008000" stroke="#008000" stroke-width="1" stroke-linejoin="round"/><polygon points="1415.4,828.8 1427.0,840.4 1415.4,852.0 1403.8,840.4" fill="#008000" stroke="#008000" stroke-width="1" stroke-linejoin="round"/><polygon points="1431.5,820.4 1443.1,832.0 1431.5,843.6 1419.9,832.0" fill="#008000" stroke="#008000" stroke-width="1" stroke-linejoin="round"/><polygon points="1447.6,812.0 1459.2,823.6 1447.6,835.2 1436.0,823.6" fill="#008000" stroke="#008000" stroke-width="1" stroke-linejoin="round"/><polygon points="1463.7,803.6 1475.3,815.2 1463.7,826.8 1452.1,815.2" fill="#008000" stroke="#008000" stroke-width="1" stroke-linejoin="round"/><polygon points="1479.8,795.2 1491.4,806.8 1479.8,818.4 1468.2,806.8" fill="#008000" stroke="#008000" stroke-width="1" stroke-linejoin="round"/><polygon points="1496.0,786.8 1507.6,798.4 1496.0,810.0 1484.4,798.4" fill="#008000" stroke="#008000" stroke-width="1" stroke-linejoin="round"/><polygon points="1512.1,778.4 1523.7,790.0 1512.1,801.6 1500.5,790.0" fill="#008000" stroke="#008000" stroke-width="1" stroke-linejoin="round"/><polygon points="1528.2,770.1 1539.8,781.7 1528.2,793.3 1516.6,781.7" fill="#008000" stroke="#008000" stroke-width="1" stroke-linejoin="round"/><polygon points="1544.3,761.7 1555.9,773.3 1544.3,784.9 1532.8,773.3" fill="#008000" stroke="#008000" stroke-width="1" stroke-linejoin="round"/><polygon points="1560.5,753.4 1572.1,765.0 1560.5,776.6 1548.9,765.0" fill="#008000" stroke="#008000" stroke-width="1" stroke-linejoin="round"/><polygon points="1576.6,745.1 1588.2,756.7 1576.6,768.3 1565.0,756.7" fill="#008000" stroke="#008000" stroke-width="1" stroke-linejoin="round"/><polygon points="1592.7,736.8 1604.3,748.4 1592.7,760.0 1581.1,748.4" fill="#008000" stroke="#008000" stroke-width="1" stroke-linejoin="round"/><polygon points="1608.8,728.5 1620.4,740.1 1608.8,751.7 1597.2,740.1" fill="#008000" stroke="#008000" stroke-width="1" stroke-linejoin="round"/><polygon points="1625.0,720.3 1636.6,731.9 1625.0,743.5 1613.4,731.9" fill="#008000" stroke="#008000" stroke-width="1" stroke-linejoin="round"/><polygon points="1641.1,712.1 1652.7,723.7 1641.1,735.3 1629.5,723.7" fill="#008000" stroke="#008000" stroke-width="1" stroke-linejoin="round"/><polygon points="1657.2,704.0 1668.8,715.6 1657.2,727.2 1645.6,715.6" fill="#008000" stroke="#008000" stroke-width="1" stroke-linejoin="round"/><polygon points="1673.3,695.9 1684.9,707.5 1673.3,719.1 1661.8,707.5" fill="#008000" stroke="#008000" stroke-width="1" stroke-linejoin="round"/><polygon points="1689.5,687.7 1701.1,699.3 1689.5,710.9 1677.9,699.3" fill="#008000" stroke="#008000" stroke-width="1" stroke-linejoin="round"/><polygon points="1705.6,679.6 1717.2,691.2 1705.6,702.8 1694.0,691.2" fill="#008000" stroke="#008000" stroke-width="1" stroke-linejoin="round"/><polygon points="1721.7,671.6 1733.3,683.2 1721.7,694.8 1710.1,683.2" fill="#008000" stroke="#008000" stroke-width="1" stroke-linejoin="round"/><polygon points="1737.9,663.5 1749.5,675.1 1737.9,686.7 1726.3,675.1" fill="#008000" stroke="#008000" stroke-width="1" stroke-linejoin="round"/><polygon points="1754.0,655.4 1765.6,667.0 1754.0,678.6 1742.4,667.0" fill="#008000" stroke="#008000" stroke-width="1" stroke-linejoin="round"/><polygon points="1770.1,647.3 1781.7,658.9 1770.1,670.5 1758.5,658.9" fill="#008000" stroke="#008000" stroke-width="1" stroke-linejoin="round"/><polygon points="1786.2,639.3 1797.8,650.9 1786.2,662.5 1774.6,650.9" fill="#008000" stroke="#008000" stroke-width="1" stroke-linejoin="round"/><polygon points="1802.3,631.2 1813.9,642.8 1802.3,654.4 1790.8,642.8" fill="#008000" stroke="#008000" stroke-width="1" stroke-linejoin="round"/><polygon points="1818.5,623.1 1830.1,634.7 1818.5,646.3 1806.9,634.7" fill="#008000" stroke="#008000" stroke-width="1" stroke-linejoin="round"/><polygon points="1834.6,615.0 1846.2,626.6 1834.6,638.2 1823.0,626.6" fill="#008000" stroke="#008000" stroke-width="1" stroke-linejoin="round"/><polygon points="1850.7,606.9 1862.3,618.5 1850.7,630.1 1839.1,618.5" fill="#008000" stroke="#008000" stroke-width="1" stroke-linejoin="round"/><polygon points="1866.9,598.7 1878.5,610.3 1866.9,621.9 1855.3,610.3" fill="#008000" stroke="#008000" stroke-width="1" stroke-linejoin="round"/><polygon points="1883.0,590.5 1894.6,602.1 1883.0,613.7 1871.4,602.1" fill="#008000" stroke="#008000" stroke-width="1" stroke-linejoin="round"/><polygon points="1899.1,582.3 1910.7,593.9 1899.1,605.5 1887.5,593.9" fill="#008000" stroke="#008000" stroke-width="1" stroke-linejoin="round"/><polygon points="1915.2,574.1 1926.8,585.7 1915.2,597.3 1903.6,585.7" fill="#008000" stroke="#008000" stroke-width="1" stroke-linejoin="round"/><polygon points="1931.3,565.8 1942.9,577.4 1931.3,589.0 1919.8,577.4" fill="#008000" stroke="#008000" stroke-width="1" stroke-linejoin="round"/><polygon points="1947.5,557.5 1959.1,569.1 1947.5,580.7 1935.9,569.1" fill="#008000" stroke="#008000" stroke-width="1" stroke-linejoin="round"/></g>
<g><polygon points="628.8,1229.4 647.6,1218.8 647.6,1240.0" fill="#000080" stroke="#000080" stroke-width="1" stroke-linejoin="round"/><polygon points="644.9,1221.7 663.7,1211.1 663.7,1232.3" fill="#000080" stroke="#000080" stroke-width="1" stroke-linejoin="round"/><polygon points="661.1,1214.0 679.9,1203.4 679.9,1224.6" fill="#000080" stroke="#000080" stroke-width="1" stroke-linejoin="round"/><polygon points="677.2,1206.4 696.0,1195.8 696.0,1217.0" fill="#000080" stroke="#000080" stroke-width="1" stroke-linejoin="round"/><polygon points="693.3,1198.7 712.1,1188.1 712.1,1209.3" fill="#000080" stroke="#000080" stroke-width="1" stroke-linejoin="round"/><polygon points="709.4,1191.0 728.2,1180.4 728.2,1201.6" fill="#000080" stroke="#000080" stroke-width="1" stroke-linejoin="round"/><polygon points="725.6,1183.3 744.4,1172.7 744.4,1193.9" fill="#000080" stroke="#000080" stroke-width="1" stroke-linejoin="round"/><polygon points="741.7,1175.5 760.5,1164.9 760.5,1186.1" fill="#000080" stroke="#000080" stroke-width="1" stroke-linejoin="round"/><polygon points="757.8,1167.8 776.6,1157.2 776.6,1178.4" fill="#000080" stroke="#000080" stroke-width="1" stroke-linejoin="round"/><polygon points="773.9,1160.0 792.7,1149.4 792.7,1170.6" fill="#000080" stroke="#000080" stroke-width="1" stroke-linejoin="round"/><polygon points="790.1,1152.2 808.9,1141.6 808.9,1162.8" fill="#000080" stroke="#000080" stroke-width="1" stroke-linejoin="round"/><polygon points="806.2,1144.4 825.0,1133.8 825.0,1155.0" fill="#000080" stroke="#000080" stroke-width="1" stroke-linejoin="round"/><polygon points="822.3,1136.6 841.1,1126.0 841.1,1147.2" fill="#000080" stroke="#000080" stroke-width="1" stroke-linejoin="round"/><polygon points="838.4,1128.8 857.2,1118.2 857.2,1139.4" fill="#000080" stroke="#000080" stroke-width="1" stroke-linejoin="round"/><polygon points="854.6,1120.9 873.4,1110.3 873.4,1131.5" fill="#000080" stroke="#000080" stroke-width="1" stroke-linejoin="round"/><polygon points="870.7,1113.1 889.5,1102.5 889.5,1123.7" fill="#000080" stroke="#000080" stroke-width="1" stroke-linejoin="round"/><polygon points="886.8,1105.2 905.6,1094.6 905.6,1115.8" fill="#000080" stroke="#000080" stroke-width="1" stroke-linejoin="round"/><polygon points="902.9,1097.3 921.7,1086.7 921.7,1107.9" fill="#000080" stroke="#000080" stroke-width="1" stroke-linejoin="round"/><polygon points="919.1,1089.4 937.9,1078.8 937.9,1100.0" fill="#000080" stroke="#000080" stroke-width="1" stroke-linejoin="round"/><polygon points="935.2,1081.5 954.0,1070.9 954.0,1092.1" fill="#000080" stroke="#000080" stroke-width="1" stroke-linejoin="round"/><polygon points="951.3,1073.6 970.1,1063.0 970.1,1084.2" fill="#000080" stroke="#000080" stroke-width="1" stroke-linejoin="round"/><polygon points="967.4,1065.6 986.2,1055.0 986.2,1076.2" fill="#000080" stroke="#000080" stroke-width="1" stroke-linejoin="round"/><polygon points="983.6,1057.7 1002.4,1047.1 1002.4,1068.3" fill="#000080" stroke="#000080" stroke-width="1" stroke-linejoin="round"/><polygon points="999.7,1049.6 1018.5,1039.0 1018.5,1060.2" fill="#000080" stroke="#000080" stroke-width="1" stroke-linejoin="round"/><polygon points="1015.8,1041.6 1034.6,1031.0 1034.6,1052.2" fill="#000080" stroke="#000080" stroke-width="1" stroke-linejoin="round"/><polygon points="1031.9,1033.5 1050.7,1022.9 1050.7,1044.1" fill="#000080" stroke="#000080" stroke-width="1" stroke-linejoin="round"/><polygon points="1048.1,1025.4 1066.9,1014.8 1066.9,1036.0" fill="#000080" stroke="#000080" stroke-width="1" stroke-linejoin="round"/><polygon points="1064.2,1017.3 1083.0,1006.7 1083.0,1027.9" fill="#000080" stroke="#000080" stroke-width="1" stroke-linejoin="round"/><polygon points="1080.3,1009.2 1099.1,998.6 1099.1,1019.8" fill="#000080" stroke="#000080" stroke-width="1" stroke-linejoin="round"/><polygon points="1096.4,1001.0 1115.2,990.4 1115.2,1011.6" fill="#000080" stroke="#000080" stroke-width="1" stroke-linejoin="round"/><polygon points="1112.6,992.9 1131.4,982.3 1131.4,1003.5" fill="#000080" stroke="#000080" stroke-width="1" stroke-linejoin="round"/><polygon points="1128.7,984.7 1147.5,974.1 1147.5,995.3" fill="#000080" stroke="#000080" stroke-width="1" stroke-linejoin="round"/><polygon points="1144.8,976.6 1163.6,966.0 1163.6,987.2" fill="#000080" stroke="#000080" stroke-width="1" stroke-linejoin="round"/><polygon points="1160.9,968.4 1179.7,957.8 1179.7,979.0" fill="#000080" stroke="#000080" stroke-width="1" stroke-linejoin="round"/><polygon points="1177.1,960.3 1195.9,949.7 1195.9,970.9" fill="#000080" stroke="#000080" stroke-width="1" stroke-linejoin="round"/><polygon points="1193.2,952.2 1212.0,941.6 1212.0,962.8" fill="#000080" stroke="#000080" stroke-width="1" stroke-linejoin="round"/><polygon points="1209.3,944.0 1228.1,933.4 1228.1,954.6" fill="#000080" stroke="#000080" stroke-width="1" stroke-linejoin="round"/><polygon points="1225.4,936.0 1244.2,925.4 1244.2,946.6" fill="#000080" stroke="#000080" stroke-width="1" stroke-linejoin="round"/><polygon points="1241.6,927.9 1260.4,917.3 1260.4,938.5" fill="#000080" stroke="#000080" stroke-width="1" stroke-linejoin="round"/><polygon points="1257.7,919.9 1276.5,909.3 1276.5,930.5" fill="#000080" stroke="#000080" stroke-width="1" stroke-linejoin="round"/><polygon points="1273.8,911.9 1292.6,901.3 1292.6,922.5" fill="#000080" stroke="#000080" stroke-width="1" stroke-linejoin="round"/><polygon points="1289.9,903.9 1308.7,893.3 1308.7,914.5" fill="#000080" stroke="#000080" stroke-width="1" stroke-linejoin="round"/><polygon points="1306.1,895.9 1324.9,885.3 1324.9,906.5" fill="#000080" stroke="#000080" stroke-width="1" stroke-linejoin="round"/><polygon points="1322.2,888.0 1341.0,877.4 1341.0,898.6" fill="#000080" stroke="#000080" stroke-width="1" stroke-linejoin="round"/><polygon points="1338.3,880.1 1357.1,869.5 1357.1,890.7" fill="#000080" stroke="#000080" stroke-width="1" stroke-linejoin="round"/><polygon points="1354.4,872.3 1373.2,861.7 1373.2,882.9" fill="#000080" stroke="#000080" stroke-width="1" stroke-linejoin="round"/><polygon points="1370.6,864.4 1389.4,853.8 1389.4,875.0" fill="#000080" stroke="#000080" stroke-width="1" stroke-linejoin="round"/><polygon points="1386.7,856.5 1405.5,845.9 1405.5,867.1" fill="#000080" stroke="#000080" stroke-width="1" stroke-linejoin="round"/><polygon points="1402.8,848.7 1421.6,838.1 1421.6,859.3" fill="#000080" stroke="#000080" stroke-width="1" stroke-linejoin="round"/><polygon points="1418.9,840.9 1437.7,830.3 1437.7,851.5" fill="#000080" stroke="#000080" stroke-width="1" stroke-linejoin="round"/><polygon points="1435.1,833.0 1453.9,822.4 1453.9,843.6" fill="#000080" stroke="#000080" stroke-width="1" stroke-linejoin="round"/><polygon points="1451.2,825.2 1470.0,814.6 1470.0,835.8" fill="#000080" stroke="#000080" stroke-width="1" stroke-linejoin="round"/><polygon points="1467.3,817.4 1486.1,806.8 1486.1,828.0" fill="#000080" stroke="#000080" stroke-width="1" stroke-linejoin="round"/><polygon points="1483.4,809.5 1502.2,798.9 1502.2,820.1" fill="#000080" stroke="#000080" stroke-width="1" stroke-linejoin="round"/><polygon points="1499.6,801.7 1518.4,791.1 1518.4,812.3" fill="#000080" stroke="#000080" stroke-width="1" stroke-linejoin="round"/><polygon points="1515.7,793.8 1534.5,783.2 1534.5,804.4" fill="#000080" stroke="#000080" stroke-width="1" stroke-linejoin="round"/><polygon points="1531.8,785.9 1550.6,775.3 1550.6,796.5" fill="#000080" stroke="#000080" stroke-width="1" stroke-linejoin="round"/><polygon points="1547.9,778.0 1566.7,767.4 1566.7,788.6" fill="#000080" stroke="#000080" stroke-width="1" stroke-linejoin="round"/><polygon points="1564.1,770.1 1582.9,759.5 1582.9,780.7" fill="#000080" stroke="#000080" stroke-width="1" stroke-linejoin="round"/><polygon points="1580.2,762.1 1599.0,751.5 1599.0,772.7" fill="#000080" stroke="#000080" stroke-width="1" stroke-linejoin="round"/><polygon points="1596.3,754.1 1615.1,743.5 1615.1,764.7" fill="#000080" stroke="#000080" stroke-width="1" stroke-linejoin="round"/><polygon points="1612.4,746.1 1631.2,735.5 1631.2,756.7" fill="#000080" stroke="#000080" stroke-width="1" stroke-linejoin="round"/><polygon points="1628.6,738.1 1647.4,727.5 1647.4,748.7" fill="#000080" stroke="#000080" stroke-width="1" stroke-linejoin="round"/><polygon points="1644.7,730.0 1663.5,719.4 1663.5,740.6" fill="#000080" stroke="#000080" stroke-width="1" stroke-linejoin="round"/><polygon points="1660.8,722.0 1679.6,711.4 1679.6,732.6" fill="#000080" stroke="#000080" stroke-width="1" stroke-linejoin="round"/><polygon points="1676.9,713.9 1695.7,703.3 1695.7,724.5" fill="#000080" stroke="#000080" stroke-width="1" stroke-linejoin="round"/><polygon points="1693.1,705.8 1711.9,695.2 1711.9,716.4" fill="#000080" stroke="#000080" stroke-width="1" stroke-linejoin="round"/><polygon points="1709.2,697.7 1728.0,687.1 1728.0,708.3" fill="#000080" stroke="#000080" stroke-width="1" stroke-linejoin="round"/><polygon points="1725.3,689.6 1744.1,679.0 1744.1,700.2" fill="#000080" stroke="#000080" stroke-width="1" stroke-linejoin="round"/><polygon points="1741.4,681.5 1760.2,670.9 1760.2,692.1" fill="#000080" stroke="#000080" stroke-width="1" stroke-linejoin="round"/><polygon points="1757.6,673.4 1776.4,662.8 1776.4,684.0" fill="#000080" stroke="#000080" stroke-width="1" stroke-linejoin="round"/><polygon points="1773.7,665.3 1792.5,654.7 1792.5,675.9" fill="#000080" stroke="#000080" stroke-width="1" stroke-linejoin="round"/><polygon points="1789.8,657.1 1808.6,646.5 1808.6,667.7" fill="#000080" stroke="#000080" stroke-width="1" stroke-linejoin="round"/><polygon points="1805.9,648.9 1824.7,638.3 1824.7,659.5" fill="#000080" stroke="#000080" stroke-width="1" stroke-linejoin="round"/><polygon points="1822.1,640.8 1840.9,630.2 1840.9,651.4" fill="#000080" stroke="#000080" stroke-width="1" stroke-linejoin="round"/><polygon points="1838.2,632.6 1857.0,622.0 1857.0,643.2" fill="#000080" stroke="#000080" stroke-width="1" stroke-linejoin="round"/><polygon points="1854.3,624.4 1873.1,613.8 1873.1,635.0" fill="#000080" stroke="#000080" stroke-width="1" stroke-linejoin="round"/><polygon points="1870.4,616.2 1889.2,605.6 1889.2,626.8" fill="#000080" stroke="#000080" stroke-width="1" stroke-linejoin="round"/><polygon points="1886.6,607.9 1905.4,597.3 1905.4,618.5" fill="#000080" stroke="#000080" stroke-width="1" stroke-linejoin="round"/><polygon points="1902.7,599.7 1921.5,589.1 1921.5,610.3" fill="#000080" stroke="#000080" stroke-width="1" stroke-linejoin="round"/></g>
<g><polygon points="653.9,1203.7 635.1,1193.1 635.1,1214.3" fill="#8000ff" stroke="#8000ff" stroke-width="1" stroke-linejoin="round"/><polygon points="670.0,1195.6 651.2,1185.0 651.2,1206.2" fill="#8000ff" stroke="#8000ff" stroke-width="1" stroke-linejoin="round"/><polygon points="686.1,1187.4 667.3,1176.8 667.3,1198.0" fill="#8000ff" stroke="#8000ff" stroke-width="1" stroke-linejoin="round"/><polygon points="702.3,1179.3 683.5,1168.7 683.5,1189.9" fill="#8000ff" stroke="#8000ff" stroke-width="1" stroke-linejoin="round"/><polygon points="718.4,1171.2 699.6,1160.6 699.6,1181.8" fill="#8000ff" stroke="#8000ff" stroke-width="1" stroke-linejoin="round"/><polygon points="734.5,1163.0 715.7,1152.4 715.7,1173.6" fill="#8000ff" stroke="#8000ff" stroke-width="1" stroke-linejoin="round"/><polygon points="750.6,1154.9 731.8,1144.3 731.8,1165.5" fill="#8000ff" stroke="#8000ff" stroke-width="1" stroke-linejoin="round"/><polygon points="766.8,1146.8 748.0,1136.2 748.0,1157.4" fill="#8000ff" stroke="#8000ff" stroke-width="1" stroke-linejoin="round"/><polygon points="782.9,1138.7 764.1,1128.1 764.1,1149.3" fill="#8000ff" stroke="#8000ff" stroke-width="1" stroke-linejoin="round"/><polygon points="799.0,1130.5 780.2,1119.9 780.2,1141.1" fill="#8000ff" stroke="#8000ff" stroke-width="1" stroke-linejoin="round"/><polygon points="815.1,1122.4 796.3,1111.8 796.3,1133.0" fill="#8000ff" stroke="#8000ff" stroke-width="1" stroke-linejoin="round"/><polygon points="831.3,1114.3 812.5,1103.7 812.5,1124.9" fill="#8000ff" stroke="#8000ff" stroke-width="1" stroke-linejoin="round"/><polygon points="847.4,1106.2 828.6,1095.6 828.6,1116.8" fill="#8000ff" stroke="#8000ff" stroke-width="1" stroke-linejoin="round"/><polygon points="863.5,1098.2 844.7,1087.6 844.7,1108.8" fill="#8000ff" stroke="#8000ff" stroke-width="1" stroke-linejoin="round"/><polygon points="879.6,1090.1 860.8,1079.5 860.8,1100.7" fill="#8000ff" stroke="#8000ff" stroke-width="1" stroke-linejoin="round"/><polygon points="895.8,1082.0 877.0,1071.4 877.0,1092.6" fill="#8000ff" stroke="#8000ff" stroke-width="1" stroke-linejoin="round"/><polygon points="911.9,1073.9 893.1,1063.3 893.1,1084.5" fill="#8000ff" stroke="#8000ff" stroke-width="1" stroke-linejoin="round"/><polygon points="928.0,1065.8 909.2,1055.2 909.2,1076.4" fill="#8000ff" stroke="#8000ff" stroke-width="1" stroke-linejoin="round"/><polygon points="944.1,1057.8 925.3,1047.2 925.3,1068.4" fill="#8000ff" stroke="#8000ff" stroke-width="1" stroke-linejoin="round"/><polygon points="960.3,1049.7 941.5,1039.1 941.5,1060.3" fill="#8000ff" stroke="#8000ff" stroke-width="1" stroke-linejoin="round"/><polygon points="976.4,1041.7 957.6,1031.1 957.6,1052.3" fill="#8000ff" stroke="#8000ff" stroke-width="1" stroke-linejoin="round"/><polygon points="992.5,1033.6 973.7,1023.0 973.7,1044.2" fill="#8000ff" stroke="#8000ff" stroke-width="1" stroke-linejoin="round"/><polygon points="1008.6,1025.6 989.8,1015.0 989.8,1036.2" fill="#8000ff" stroke="#8000ff" stroke-width="1" stroke-linejoin="round"/><polygon points="1024.8,1017.5 1006.0,1006.9 1006.0,1028.1" fill="#8000ff" stroke="#8000ff" stroke-width="1" stroke-linejoin="round"/><polygon points="1040.9,1009.5 1022.1,998.9 1022.1,1020.1" fill="#8000ff" stroke="#8000ff" stroke-width="1" stroke-linejoin="round"/><polygon points="1057.0,1001.4 1038.2,990.8 1038.2,1012.0" fill="#8000ff" stroke="#8000ff" stroke-width="1" stroke-linejoin="round"/><polygon points="1073.1,993.4 1054.3,982.8 1054.3,1004.0" fill="#8000ff" stroke="#8000ff" stroke-width="1" stroke-linejoin="round"/><polygon points="1089.3,985.4 1070.5,974.8 1070.5,996.0" fill="#8000ff" stroke="#8000ff" stroke-width="1" stroke-linejoin="round"/><polygon points="1105.4,977.4 1086.6,966.8 1086.6,988.0" fill="#8000ff" stroke="#8000ff" stroke-width="1" stroke-linejoin="round"/><polygon points="1121.5,969.3 1102.7,958.7 1102.7,979.9" fill="#8000ff" stroke="#8000ff" stroke-width="1" stroke-linejoin="round"/><polygon points="1137.6,961.3 1118.8,950.7 1118.8,971.9" fill="#8000ff" stroke="#8000ff" stroke-width="1" stroke-linejoin="round"/><polygon points="1153.8,953.3 1135.0,942.7 1135.0,963.9" fill="#8000ff" stroke="#8000ff" stroke-width="1" stroke-linejoin="round"/><polygon points="1169.9,945.3 1151.1,934.7 1151.1,955.9" fill="#8000ff" stroke="#8000ff" stroke-width="1" stroke-linejoin="round"/><polygon points="1186.0,937.3 1167.2,926.7 1167.2,947.9" fill="#8000ff" stroke="#8000ff" stroke-width="1" stroke-linejoin="round"/><polygon points="1202.1,929.3 1183.3,918.7 1183.3,939.9" fill="#8000ff" stroke="#8000ff" stroke-width="1" stroke-linejoin="round"/><polygon points="1218.3,921.4 1199.5,910.8 1199.5,932.0" fill="#8000ff" stroke="#8000ff" stroke-width="1" stroke-linejoin="round"/><polygon points="1234.4,913.4 1215.6,902.8 1215.6,924.0" fill="#8000ff" stroke="#8000ff" stroke-width="1" stroke-linejoin="round"/><polygon points="1250.5,905.4 1231.7,894.8 1231.7,916.0" fill="#8000ff" stroke="#8000ff" stroke-width="1" stroke-linejoin="round"/><polygon points="1266.6,897.5 1247.8,886.9 1247.8,908.1" fill="#8000ff" stroke="#8000ff" stroke-width="1" stroke-linejoin="round"/><polygon points="1282.8,889.5 1264.0,878.9 1264.0,900.1" fill="#8000ff" stroke="#8000ff" stroke-width="1" stroke-linejoin="round"/><polygon points="1298.9,881.6 1280.1,871.0 1280.1,892.2" fill="#8000ff" stroke="#8000ff" stroke-width="1" stroke-linejoin="round"/><polygon points="1315.0,873.7 1296.2,863.1 1296.2,884.3" fill="#8000ff" stroke="#8000ff" stroke-width="1" stroke-linejoin="round"/><polygon points="1331.1,865.7 1312.3,855.1 1312.3,876.3" fill="#8000ff" stroke="#8000ff" stroke-width="1" stroke-linejoin="round"/><polygon points="1347.3,857.9 1328.5,847.3 1328.5,868.5" fill="#8000ff" stroke="#8000ff" stroke-width="1" stroke-linejoin="round"/><polygon points="1363.4,850.0 1344.6,839.4 1344.6,860.6" fill="#8000ff" stroke="#8000ff" stroke-width="1" stroke-linejoin="round"/><polygon points="1379.5,842.1 1360.7,831.5 1360.7,852.7" fill="#8000ff" stroke="#8000ff" stroke-width="1" stroke-linejoin="round"/><polygon points="1395.6,834.3 1376.8,823.7 1376.8,844.9" fill="#8000ff" stroke="#8000ff" stroke-width="1" stroke-linejoin="round"/><polygon points="1411.8,826.4 1393.0,815.8 1393.0,837.0" fill="#8000ff" stroke="#8000ff" stroke-width="1" stroke-linejoin="round"/><polygon points="1427.9,818.6 1409.1,808.0 1409.1,829.2" fill="#8000ff" stroke="#8000ff" stroke-width="1" stroke-linejoin="round"/><polygon points="1444.0,810.8 1425.2,800.2 1425.2,821.4" fill="#8000ff" stroke="#8000ff" stroke-width="1" stroke-linejoin="round"/><polygon points="1460.1,802.9 1441.3,792.3 1441.3,813.5" fill="#8000ff" stroke="#8000ff" stroke-width="1" stroke-linejoin="round"/><polygon points="1476.3,795.1 1457.5,784.5 1457.5,805.7" fill="#8000ff" stroke="#8000ff" stroke-width="1" stroke-linejoin="round"/><polygon points="1492.4,787.3 1473.6,776.7 1473.6,797.9" fill="#8000ff" stroke="#8000ff" stroke-width="1" stroke-linejoin="round"/><polygon points="1508.5,779.4 1489.7,768.8 1489.7,790.0" fill="#8000ff" stroke="#8000ff" stroke-width="1" stroke-linejoin="round"/><polygon points="1524.6,771.6 1505.8,761.0 1505.8,782.2" fill="#8000ff" stroke="#8000ff" stroke-width="1" stroke-linejoin="round"/><polygon points="1540.8,763.7 1522.0,753.1 1522.0,774.3" fill="#8000ff" stroke="#8000ff" stroke-width="1" stroke-linejoin="round"/><polygon points="1556.9,755.8 1538.1,745.2 1538.1,766.4" fill="#8000ff" stroke="#8000ff" stroke-width="1" stroke-linejoin="round"/><polygon points="1573.0,747.9 1554.2,737.3 1554.2,758.5" fill="#8000ff" stroke="#8000ff" stroke-width="1" stroke-linejoin="round"/><polygon points="1589.1,740.0 1570.3,729.4 1570.3,750.6" fill="#8000ff" stroke="#8000ff" stroke-width="1" stroke-linejoin="round"/><polygon points="1605.3,732.1 1586.5,721.5 1586.5,742.7" fill="#8000ff" stroke="#8000ff" stroke-width="1" stroke-linejoin="round"/><polygon points="1621.4,724.2 1602.6,713.6 1602.6,734.8" fill="#8000ff" stroke="#8000ff" stroke-width="1" stroke-linejoin="round"/><polygon points="1637.5,716.2 1618.7,705.6 1618.7,726.8" fill="#8000ff" stroke="#8000ff" stroke-width="1" stroke-linejoin="round"/><polygon points="1653.6,708.2 1634.8,697.6 1634.8,718.8" fill="#8000ff" stroke="#8000ff" stroke-width="1" stroke-linejoin="round"/><polygon points="1669.8,700.2 1651.0,689.6 1651.0,710.8" fill="#8000ff" stroke="#8000ff" stroke-width="1" stroke-linejoin="round"/><polygon points="1685.9,692.2 1667.1,681.6 1667.1,702.8" fill="#8000ff" stroke="#8000ff" stroke-width="1" stroke-linejoin="round"/><polygon points="1702.0,684.2 1683.2,673.6 1683.2,694.8" fill="#8000ff" stroke="#8000ff" stroke-width="1" stroke-linejoin="round"/><polygon points="1718.1,676.1 1699.3,665.5 1699.3,686.7" fill="#8000ff" stroke="#8000ff" stroke-width="1" stroke-linejoin="round"/><polygon points="1734.3,668.1 1715.5,657.5 1715.5,678.7" fill="#8000ff" stroke="#8000ff" stroke-width="1" stroke-linejoin="round"/><polygon points="1750.4,660.0 1731.6,649.4 1731.6,670.6" fill="#8000ff" stroke="#8000ff" stroke-width="1" stroke-linejoin="round"/><polygon points="1766.5,651.9 1747.7,641.3 1747.7,662.5" fill="#8000ff" stroke="#8000ff" stroke-width="1" stroke-linejoin="round"/><polygon points="1782.6,643.8 1763.8,633.2 1763.8,654.4" fill="#8000ff" stroke="#8000ff" stroke-width="1" stroke-linejoin="round"/><polygon points="1798.8,635.8 1780.0,625.2 1780.0,646.4" fill="#8000ff" stroke="#8000ff" stroke-width="1" stroke-linejoin="round"/><polygon points="1814.9,627.6 1796.1,617.0 1796.1,638.2" fill="#8000ff" stroke="#8000ff" stroke-width="1" stroke-linejoin="round"/></g>
<g><polygon points="641.4,1175.6 650.0,1180.3 650.0,1189.8 641.4,1194.6 632.7,1189.8 632.7,1180.3" fill="#800080" stroke="#800080" stroke-width="1" stroke-linejoin="round"/><polygon points="657.5,1167.5 666.1,1172.3 666.1,1181.8 657.5,1186.5 648.8,1181.8 648.8,1172.3" fill="#800080" stroke="#800080" stroke-width="1" stroke-linejoin="round"/><polygon points="673.6,1159.5 682.2,1164.2 682.2,1173.7 673.6,1178.5 665.0,1173.7 665.0,1164.2" fill="#800080" stroke="#800080" stroke-width="1" stroke-linejoin="round"/><polygon points="689.7,1151.4 698.4,1156.1 698.4,1165.6 689.7,1170.4 681.1,1165.6 681.1,1156.1" fill="#800080" stroke="#800080" stroke-width="1" stroke-linejoin="round"/><polygon points="705.9,1143.3 714.5,1148.1 714.5,1157.6 705.9,1162.3 697.2,1157.6 697.2,1148.1" fill="#800080" stroke="#800080" stroke-width="1" stroke-linejoin="round"/><polygon points="722.0,1135.2 730.6,1140.0 730.6,1149.5 722.0,1154.2 713.3,1149.5 713.3,1140.0" fill="#800080" stroke="#800080" stroke-width="1" stroke-linejoin="round"/><polygon points="738.1,1127.1 746.8,1131.9 746.8,1141.4 738.1,1146.1 729.5,1141.4 729.5,1131.9" fill="#800080" stroke="#800080" stroke-width="1" stroke-linejoin="round"/><polygon points="754.2,1119.1 762.9,1123.8 762.9,1133.3 754.2,1138.1 745.6,1133.3 745.6,1123.8" fill="#800080" stroke="#800080" stroke-width="1" stroke-linejoin="round"/><polygon points="770.4,1110.9 779.0,1115.7 779.0,1125.2 770.4,1129.9 761.7,1125.2 761.7,1115.7" fill="#800080" stroke="#800080" stroke-width="1" stroke-linejoin="round"/><polygon points="786.5,1102.8 795.1,1107.6 795.1,1117.1 786.5,1121.8 777.8,1117.1 777.8,1107.6" fill="#800080" stroke="#800080" stroke-width="1" stroke-linejoin="round"/><polygon points="802.6,1094.7 811.2,1099.5 811.2,1109.0 802.6,1113.7 794.0,1109.0 794.0,1099.5" fill="#800080" stroke="#800080" stroke-width="1" stroke-linejoin="round"/><polygon points="818.7,1086.6 827.4,1091.3 827.4,1100.8 818.7,1105.6 810.1,1100.8 810.1,1091.3" fill="#800080" stroke="#800080" stroke-width="1" stroke-linejoin="round"/><polygon points="834.9,1078.4 843.5,1083.2 843.5,1092.7 834.9,1097.4 826.2,1092.7 826.2,1083.2" fill="#800080" stroke="#800080" stroke-width="1" stroke-linejoin="round"/><polygon points="851.0,1070.3 859.6,1075.0 859.6,1084.5 851.0,1089.3 842.3,1084.5 842.3,1075.0" fill="#800080" stroke="#800080" stroke-width="1" stroke-linejoin="round"/><polygon points="867.1,1062.1 875.8,1066.8 875.8,1076.3 867.1,1081.1 858.5,1076.3 858.5,1066.8" fill="#800080" stroke="#800080" stroke-width="1" stroke-linejoin="round"/><polygon points="883.2,1053.9 891.9,1058.7 891.9,1068.2 883.2,1072.9 874.6,1068.2 874.6,1058.7" fill="#800080" stroke="#800080" stroke-width="1" stroke-linejoin="round"/><polygon points="899.4,1045.7 908.0,1050.5 908.0,1060.0 899.4,1064.7 890.7,1060.0 890.7,1050.5" fill="#800080" stroke="#800080" stroke-width="1" stroke-linejoin="round"/><polygon points="915.5,1037.6 924.1,1042.3 924.1,1051.8 915.5,1056.6 906.8,1051.8 906.8,1042.3" fill="#800080" stroke="#800080" stroke-width="1" stroke-linejoin="round"/><polygon points="931.6,1029.4 940.2,1034.2 940.2,1043.7 931.6,1048.4 922.9,1043.7 922.9,1034.2" fill="#800080" stroke="#800080" stroke-width="1" stroke-linejoin="round"/><polygon points="947.7,1021.3 956.4,1026.0 956.4,1035.5 947.7,1040.3 939.1,1035.5 939.1,1026.0" fill="#800080" stroke="#800080" stroke-width="1" stroke-linejoin="round"/><polygon points="963.9,1013.2 972.5,1017.9 972.5,1027.4 963.9,1032.2 955.2,1027.4 955.2,1017.9" fill="#800080" stroke="#800080" stroke-width="1" stroke-linejoin="round"/><polygon points="980.0,1005.1 988.6,1009.8 988.6,1019.3 980.0,1024.1 971.3,1019.3 971.3,1009.8" fill="#800080" stroke="#800080" stroke-width="1" stroke-linejoin="round"/><polygon points="996.1,997.0 1004.8,1001.8 1004.8,1011.3 996.1,1016.0 987.5,1011.3 987.5,1001.8" fill="#800080" stroke="#800080" stroke-width="1" stroke-linejoin="round"/><polygon points="1012.2,989.0 1020.9,993.7 1020.9,1003.2 1012.2,1008.0 1003.6,1003.2 1003.6,993.7" fill="#800080" stroke="#800080" stroke-width="1" stroke-linejoin="round"/><polygon points="1028.4,980.9 1037.0,985.6 1037.0,995.1 1028.4,999.9 1019.7,995.1 1019.7,985.6" fill="#800080" stroke="#800080" stroke-width="1" stroke-linejoin="round"/><polygon points="1044.5,972.9 1053.1,977.6 1053.1,987.1 1044.5,991.9 1035.8,987.1 1035.8,977.6" fill="#800080" stroke="#800080" stroke-width="1" stroke-linejoin="round"/><polygon points="1060.6,964.8 1069.2,969.6 1069.2,979.1 1060.6,983.8 1051.9,979.1 1051.9,969.6" fill="#800080" stroke="#800080" stroke-width="1" stroke-linejoin="round"/><polygon points="1076.7,956.8 1085.4,961.5 1085.4,971.0 1076.7,975.8 1068.1,971.0 1068.1,961.5" fill="#800080" stroke="#800080" stroke-width="1" stroke-linejoin="round"/><polygon points="1092.8,948.8 1101.5,953.5 1101.5,963.0 1092.8,967.8 1084.2,963.0 1084.2,953.5" fill="#800080" stroke="#800080" stroke-width="1" stroke-linejoin="round"/><polygon points="1109.0,940.7 1117.6,945.5 1117.6,955.0 1109.0,959.7 1100.3,955.0 1100.3,945.5" fill="#800080" stroke="#800080" stroke-width="1" stroke-linejoin="round"/><polygon points="1125.1,932.7 1133.8,937.5 1133.8,947.0 1125.1,951.7 1116.4,947.0 1116.4,937.5" fill="#800080" stroke="#800080" stroke-width="1" stroke-linejoin="round"/><polygon points="1141.2,924.7 1149.9,929.5 1149.9,939.0 1141.2,943.7 1132.6,939.0 1132.6,929.5" fill="#800080" stroke="#800080" stroke-width="1" stroke-linejoin="round"/><polygon points="1157.3,916.7 1166.0,921.5 1166.0,931.0 1157.3,935.7 1148.7,931.0 1148.7,921.5" fill="#800080" stroke="#800080" stroke-width="1" stroke-linejoin="round"/><polygon points="1173.5,908.7 1182.1,913.5 1182.1,923.0 1173.5,927.7 1164.8,923.0 1164.8,913.5" fill="#800080" stroke="#800080" stroke-width="1" stroke-linejoin="round"/><polygon points="1189.6,900.7 1198.3,905.5 1198.3,915.0 1189.6,919.7 1181.0,915.0 1181.0,905.5" fill="#800080" stroke="#800080" stroke-width="1" stroke-linejoin="round"/><polygon points="1205.7,892.7 1214.4,897.5 1214.4,907.0 1205.7,911.7 1197.1,907.0 1197.1,897.5" fill="#800080" stroke="#800080" stroke-width="1" stroke-linejoin="round"/><polygon points="1221.8,884.7 1230.5,889.5 1230.5,899.0 1221.8,903.7 1213.2,899.0 1213.2,889.5" fill="#800080" stroke="#800080" stroke-width="1" stroke-linejoin="round"/><polygon points="1238.0,876.7 1246.6,881.5 1246.6,891.0 1238.0,895.7 1229.3,891.0 1229.3,881.5" fill="#800080" stroke="#800080" stroke-width="1" stroke-linejoin="round"/><polygon points="1254.1,868.7 1262.8,873.5 1262.8,883.0 1254.1,887.7 1245.5,883.0 1245.5,873.5" fill="#800080" stroke="#800080" stroke-width="1" stroke-linejoin="round"/><polygon points="1270.2,860.7 1278.9,865.5 1278.9,875.0 1270.2,879.7 1261.6,875.0 1261.6,865.5" fill="#800080" stroke="#800080" stroke-width="1" stroke-linejoin="round"/><polygon points="1286.3,852.7 1295.0,857.5 1295.0,867.0 1286.3,871.7 1277.7,867.0 1277.7,857.5" fill="#800080" stroke="#800080" stroke-width="1" stroke-linejoin="round"/><polygon points="1302.5,844.7 1311.1,849.4 1311.1,858.9 1302.5,863.7 1293.8,858.9 1293.8,849.4" fill="#800080" stroke="#800080" stroke-width="1" stroke-linejoin="round"/><polygon points="1318.6,836.7 1327.2,841.4 1327.2,850.9 1318.6,855.7 1309.9,850.9 1309.9,841.4" fill="#800080" stroke="#800080" stroke-width="1" stroke-linejoin="round"/><polygon points="1334.7,828.7 1343.4,833.4 1343.4,842.9 1334.7,847.7 1326.1,842.9 1326.1,833.4" fill="#800080" stroke="#800080" stroke-width="1" stroke-linejoin="round"/><polygon points="1350.9,820.6 1359.5,825.4 1359.5,834.9 1350.9,839.6 1342.2,834.9 1342.2,825.4" fill="#800080" stroke="#800080" stroke-width="1" stroke-linejoin="round"/><polygon points="1367.0,812.6 1375.6,817.4 1375.6,826.9 1367.0,831.6 1358.3,826.9 1358.3,817.4" fill="#800080" stroke="#800080" stroke-width="1" stroke-linejoin="round"/><polygon points="1383.1,804.6 1391.8,809.3 1391.8,818.8 1383.1,823.6 1374.5,818.8 1374.5,809.3" fill="#800080" stroke="#800080" stroke-width="1" stroke-linejoin="round"/><polygon points="1399.2,796.6 1407.9,801.3 1407.9,810.8 1399.2,815.6 1390.6,810.8 1390.6,801.3" fill="#800080" stroke="#800080" stroke-width="1" stroke-linejoin="round"/><polygon points="1415.4,788.5 1424.0,793.3 1424.0,802.8 1415.4,807.5 1406.7,802.8 1406.7,793.3" fill="#800080" stroke="#800080" stroke-width="1" stroke-linejoin="round"/><polygon points="1431.5,780.5 1440.1,785.3 1440.1,794.8 1431.5,799.5 1422.8,794.8 1422.8,785.3" fill="#800080" stroke="#800080" stroke-width="1" stroke-linejoin="round"/><polygon points="1447.6,772.5 1456.2,777.2 1456.2,786.7 1447.6,791.5 1438.9,786.7 1438.9,777.2" fill="#800080" stroke="#800080" stroke-width="1" stroke-linejoin="round"/><polygon points="1463.7,764.5 1472.4,769.2 1472.4,778.7 1463.7,783.5 1455.1,778.7 1455.1,769.2" fill="#800080" stroke="#800080" stroke-width="1" stroke-linejoin="round"/><polygon points="1479.8,756.5 1488.5,761.2 1488.5,770.7 1479.8,775.5 1471.2,770.7 1471.2,761.2" fill="#800080" stroke="#800080" stroke-width="1" stroke-linejoin="round"/><polygon points="1496.0,748.5 1504.6,753.2 1504.6,762.7 1496.0,767.5 1487.3,762.7 1487.3,753.2" fill="#800080" stroke="#800080" stroke-width="1" stroke-linejoin="round"/><polygon points="1512.1,740.5 1520.8,745.2 1520.8,754.7 1512.1,759.5 1503.4,754.7 1503.4,745.2" fill="#800080" stroke="#800080" stroke-width="1" stroke-linejoin="round"/><polygon points="1528.2,732.5 1536.9,737.2 1536.9,746.7 1528.2,751.5 1519.6,746.7 1519.6,737.2" fill="#800080" stroke="#800080" stroke-width="1" stroke-linejoin="round"/><polygon points="1544.3,724.5 1553.0,729.3 1553.0,738.8 1544.3,743.5 1535.7,738.8 1535.7,729.3" fill="#800080" stroke="#800080" stroke-width="1" stroke-linejoin="round"/><polygon points="1560.5,716.5 1569.1,721.3 1569.1,730.8 1560.5,735.5 1551.8,730.8 1551.8,721.3" fill="#800080" stroke="#800080" stroke-width="1" stroke-linejoin="round"/><polygon points="1576.6,708.6 1585.3,713.3 1585.3,722.8 1576.6,727.6 1568.0,722.8 1568.0,713.3" fill="#800080" stroke="#800080" stroke-width="1" stroke-linejoin="round"/><polygon points="1592.7,700.6 1601.4,705.4 1601.4,714.9 1592.7,719.6 1584.1,714.9 1584.1,705.4" fill="#800080" stroke="#800080" stroke-width="1" stroke-linejoin="round"/><polygon points="1608.8,692.7 1617.5,697.4 1617.5,706.9 1608.8,711.7 1600.2,706.9 1600.2,697.4" fill="#800080" stroke="#800080" stroke-width="1" stroke-linejoin="round"/><polygon points="1625.0,684.8 1633.6,689.5 1633.6,699.0 1625.0,703.8 1616.3,699.0 1616.3,689.5" fill="#800080" stroke="#800080" stroke-width="1" stroke-linejoin="round"/><polygon points="1641.1,676.9 1649.8,681.6 1649.8,691.1 1641.1,695.9 1632.4,691.1 1632.4,681.6" fill="#800080" stroke="#800080" stroke-width="1" stroke-linejoin="round"/><polygon points="1657.2,669.0 1665.9,673.8 1665.9,683.3 1657.2,688.0 1648.6,683.3 1648.6,673.8" fill="#800080" stroke="#800080" stroke-width="1" stroke-linejoin="round"/><polygon points="1673.3,661.1 1682.0,665.9 1682.0,675.4 1673.3,680.1 1664.7,675.4 1664.7,665.9" fill="#800080" stroke="#800080" stroke-width="1" stroke-linejoin="round"/><polygon points="1689.5,653.3 1698.1,658.0 1698.1,667.5 1689.5,672.3 1680.8,667.5 1680.8,658.0" fill="#800080" stroke="#800080" stroke-width="1" stroke-linejoin="round"/><polygon points="1705.6,645.4 1714.2,650.2 1714.2,659.7 1705.6,664.4 1696.9,659.7 1696.9,650.2" fill="#800080" stroke="#800080" stroke-width="1" stroke-linejoin="round"/></g>
<g><polygon points="641.4,1176.3 644.2,1182.8 651.3,1183.5 646.0,1188.3 647.5,1195.2 641.4,1191.6 635.2,1195.2 636.7,1188.3 631.4,1183.5 638.5,1182.8" fill="#800000" stroke="#800000" stroke-width="1" stroke-linejoin="round"/><polygon points="657.5,1167.5 660.3,1174.1 667.5,1174.8 662.1,1179.5 663.6,1186.5 657.5,1182.9 651.3,1186.5 652.9,1179.5 647.5,1174.8 654.6,1174.1" fill="#800000" stroke="#800000" stroke-width="1" stroke-linejoin="round"/><polygon points="673.6,1158.8 676.5,1165.4 683.6,1166.1 678.2,1170.8 679.8,1177.8 673.6,1174.2 667.4,1177.8 669.0,1170.8 663.6,1166.1 670.7,1165.4" fill="#800000" stroke="#800000" stroke-width="1" stroke-linejoin="round"/><polygon points="689.7,1150.2 692.6,1156.7 699.7,1157.4 694.3,1162.2 695.9,1169.1 689.7,1165.5 683.6,1169.1 685.1,1162.2 679.7,1157.4 686.9,1156.7" fill="#800000" stroke="#800000" stroke-width="1" stroke-linejoin="round"/><polygon points="705.9,1141.5 708.7,1148.1 715.8,1148.7 710.5,1153.5 712.0,1160.5 705.9,1156.8 699.7,1160.5 701.2,1153.5 695.9,1148.7 703.0,1148.1" fill="#800000" stroke="#800000" stroke-width="1" stroke-linejoin="round"/><polygon points="722.0,1132.8 724.8,1139.4 732.0,1140.1 726.6,1144.8 728.1,1151.8 722.0,1148.2 715.8,1151.8 717.4,1144.8 712.0,1140.1 719.1,1139.4" fill="#800000" stroke="#800000" stroke-width="1" stroke-linejoin="round"/><polygon points="738.1,1124.2 741.0,1130.8 748.1,1131.4 742.7,1136.2 744.3,1143.2 738.1,1139.5 731.9,1143.2 733.5,1136.2 728.1,1131.4 735.2,1130.8" fill="#800000" stroke="#800000" stroke-width="1" stroke-linejoin="round"/><polygon points="754.2,1115.5 757.1,1122.1 764.2,1122.8 758.8,1127.5 760.4,1134.5 754.2,1130.9 748.1,1134.5 749.6,1127.5 744.2,1122.8 751.4,1122.1" fill="#800000" stroke="#800000" stroke-width="1" stroke-linejoin="round"/><polygon points="770.4,1106.9 773.2,1113.5 780.3,1114.2 775.0,1118.9 776.5,1125.9 770.4,1122.3 764.2,1125.9 765.7,1118.9 760.4,1114.2 767.5,1113.5" fill="#800000" stroke="#800000" stroke-width="1" stroke-linejoin="round"/><polygon points="786.5,1098.3 789.3,1104.9 796.5,1105.6 791.1,1110.3 792.6,1117.3 786.5,1113.7 780.3,1117.3 781.9,1110.3 776.5,1105.6 783.6,1104.9" fill="#800000" stroke="#800000" stroke-width="1" stroke-linejoin="round"/><polygon points="802.6,1089.7 805.5,1096.3 812.6,1097.0 807.2,1101.7 808.8,1108.7 802.6,1105.1 796.4,1108.7 798.0,1101.7 792.6,1097.0 799.7,1096.3" fill="#800000" stroke="#800000" stroke-width="1" stroke-linejoin="round"/><polygon points="818.7,1081.1 821.6,1087.7 828.7,1088.4 823.3,1093.1 824.9,1100.1 818.7,1096.5 812.6,1100.1 814.1,1093.1 808.7,1088.4 815.9,1087.7" fill="#800000" stroke="#800000" stroke-width="1" stroke-linejoin="round"/><polygon points="834.9,1072.5 837.7,1079.1 844.8,1079.8 839.5,1084.5 841.0,1091.5 834.9,1087.9 828.7,1091.5 830.2,1084.5 824.9,1079.8 832.0,1079.1" fill="#800000" stroke="#800000" stroke-width="1" stroke-linejoin="round"/><polygon points="851.0,1064.0 853.8,1070.5 861.0,1071.2 855.6,1076.0 857.1,1083.0 851.0,1079.3 844.8,1083.0 846.4,1076.0 841.0,1071.2 848.1,1070.5" fill="#800000" stroke="#800000" stroke-width="1" stroke-linejoin="round"/><polygon points="867.1,1055.4 870.0,1062.0 877.1,1062.6 871.7,1067.4 873.3,1074.4 867.1,1070.7 860.9,1074.4 862.5,1067.4 857.1,1062.6 864.2,1062.0" fill="#800000" stroke="#800000" stroke-width="1" stroke-linejoin="round"/><polygon points="883.2,1046.8 886.1,1053.4 893.2,1054.1 887.8,1058.8 889.4,1065.8 883.2,1062.2 877.1,1065.8 878.6,1058.8 873.2,1054.1 880.4,1053.4" fill="#800000" stroke="#800000" stroke-width="1" stroke-linejoin="round"/><polygon points="899.4,1038.3 902.2,1044.9 909.3,1045.6 904.0,1050.3 905.5,1057.3 899.4,1053.7 893.2,1057.3 894.7,1050.3 889.4,1045.6 896.5,1044.9" fill="#800000" stroke="#800000" stroke-width="1" stroke-linejoin="round"/><polygon points="915.5,1029.8 918.3,1036.4 925.5,1037.1 920.1,1041.8 921.6,1048.8 915.5,1045.2 909.3,1048.8 910.9,1041.8 905.5,1037.1 912.6,1036.4" fill="#800000" stroke="#800000" stroke-width="1" stroke-linejoin="round"/><polygon points="931.6,1021.3 934.5,1027.9 941.6,1028.6 936.2,1033.3 937.8,1040.3 931.6,1036.7 925.4,1040.3 927.0,1033.3 921.6,1028.6 928.7,1027.9" fill="#800000" stroke="#800000" stroke-width="1" stroke-linejoin="round"/><polygon points="947.7,1012.9 950.6,1019.5 957.7,1020.2 952.3,1024.9 953.9,1031.9 947.7,1028.3 941.6,1031.9 943.1,1024.9 937.7,1020.2 944.9,1019.5" fill="#800000" stroke="#800000" stroke-width="1" stroke-linejoin="round"/><polygon points="963.9,1004.5 966.7,1011.1 973.8,1011.8 968.5,1016.5 970.0,1023.5 963.9,1019.9 957.7,1023.5 959.2,1016.5 953.9,1011.8 961.0,1011.1" fill="#800000" stroke="#800000" stroke-width="1" stroke-linejoin="round"/><polygon points="980.0,996.2 982.8,1002.8 990.0,1003.4 984.6,1008.2 986.1,1015.2 980.0,1011.5 973.8,1015.2 975.4,1008.2 970.0,1003.4 977.1,1002.8" fill="#800000" stroke="#800000" stroke-width="1" stroke-linejoin="round"/><polygon points="996.1,987.9 999.0,994.5 1006.1,995.1 1000.7,999.9 1002.3,1006.9 996.1,1003.2 989.9,1006.9 991.5,999.9 986.1,995.1 993.2,994.5" fill="#800000" stroke="#800000" stroke-width="1" stroke-linejoin="round"/><polygon points="1012.2,979.6 1015.1,986.2 1022.2,986.9 1016.8,991.6 1018.4,998.6 1012.2,995.0 1006.1,998.6 1007.6,991.6 1002.2,986.9 1009.4,986.2" fill="#800000" stroke="#800000" stroke-width="1" stroke-linejoin="round"/><polygon points="1028.4,971.4 1031.2,978.0 1038.3,978.6 1033.0,983.4 1034.5,990.4 1028.4,986.7 1022.2,990.4 1023.7,983.4 1018.4,978.6 1025.5,978.0" fill="#800000" stroke="#800000" stroke-width="1" stroke-linejoin="round"/><polygon points="1044.5,963.2 1047.3,969.7 1054.5,970.4 1049.1,975.2 1050.6,982.2 1044.5,978.5 1038.3,982.2 1039.9,975.2 1034.5,970.4 1041.6,969.7" fill="#800000" stroke="#800000" stroke-width="1" stroke-linejoin="round"/><polygon points="1060.6,955.0 1063.5,961.6 1070.6,962.2 1065.2,967.0 1066.8,974.0 1060.6,970.3 1054.4,974.0 1056.0,967.0 1050.6,962.2 1057.7,961.6" fill="#800000" stroke="#800000" stroke-width="1" stroke-linejoin="round"/><polygon points="1076.7,946.8 1079.6,953.4 1086.7,954.1 1081.3,958.8 1082.9,965.8 1076.7,962.2 1070.6,965.8 1072.1,958.8 1066.7,954.1 1073.9,953.4" fill="#800000" stroke="#800000" stroke-width="1" stroke-linejoin="round"/><polygon points="1092.8,938.7 1095.7,945.2 1102.8,945.9 1097.5,950.7 1099.0,957.7 1092.8,954.0 1086.7,957.7 1088.2,950.7 1082.9,945.9 1090.0,945.2" fill="#800000" stroke="#800000" stroke-width="1" stroke-linejoin="round"/><polygon points="1109.0,930.5 1111.8,937.1 1119.0,937.8 1113.6,942.5 1115.1,949.5 1109.0,945.9 1102.8,949.5 1104.4,942.5 1099.0,937.8 1106.1,937.1" fill="#800000" stroke="#800000" stroke-width="1" stroke-linejoin="round"/><polygon points="1125.1,922.4 1128.0,929.0 1135.1,929.7 1129.7,934.4 1131.3,941.4 1125.1,937.8 1118.9,941.4 1120.5,934.4 1115.1,929.7 1122.2,929.0" fill="#800000" stroke="#800000" stroke-width="1" stroke-linejoin="round"/><polygon points="1141.2,914.3 1144.1,920.9 1151.2,921.6 1145.8,926.3 1147.4,933.3 1141.2,929.7 1135.1,933.3 1136.6,926.3 1131.2,921.6 1138.4,920.9" fill="#800000" stroke="#800000" stroke-width="1" stroke-linejoin="round"/><polygon points="1157.3,906.2 1160.2,912.8 1167.3,913.5 1162.0,918.2 1163.5,925.2 1157.3,921.6 1151.2,925.2 1152.7,918.2 1147.4,913.5 1154.5,912.8" fill="#800000" stroke="#800000" stroke-width="1" stroke-linejoin="round"/><polygon points="1173.5,898.1 1176.3,904.7 1183.5,905.4 1178.1,910.1 1179.6,917.1 1173.5,913.5 1167.3,917.1 1168.9,910.1 1163.5,905.4 1170.6,904.7" fill="#800000" stroke="#800000" stroke-width="1" stroke-linejoin="round"/><polygon points="1189.6,890.0 1192.5,896.6 1199.6,897.3 1194.2,902.0 1195.8,909.0 1189.6,905.4 1183.4,909.0 1185.0,902.0 1179.6,897.3 1186.7,896.6" fill="#800000" stroke="#800000" stroke-width="1" stroke-linejoin="round"/><polygon points="1205.7,882.0 1208.6,888.5 1215.7,889.2 1210.3,894.0 1211.9,901.0 1205.7,897.3 1199.6,901.0 1201.1,894.0 1195.7,889.2 1202.9,888.5" fill="#800000" stroke="#800000" stroke-width="1" stroke-linejoin="round"/><polygon points="1221.8,873.9 1224.7,880.4 1231.8,881.1 1226.5,885.9 1228.0,892.9 1221.8,889.2 1215.7,892.9 1217.2,885.9 1211.9,881.1 1219.0,880.4" fill="#800000" stroke="#800000" stroke-width="1" stroke-linejoin="round"/><polygon points="1238.0,865.8 1240.8,872.4 1248.0,873.0 1242.6,877.8 1244.1,884.8 1238.0,881.1 1231.8,884.8 1233.4,877.8 1228.0,873.0 1235.1,872.4" fill="#800000" stroke="#800000" stroke-width="1" stroke-linejoin="round"/><polygon points="1254.1,857.7 1257.0,864.3 1264.1,864.9 1258.7,869.7 1260.3,876.7 1254.1,873.0 1247.9,876.7 1249.5,869.7 1244.1,864.9 1251.2,864.3" fill="#800000" stroke="#800000" stroke-width="1" stroke-linejoin="round"/><polygon points="1270.2,849.6 1273.1,856.2 1280.2,856.8 1274.8,861.6 1276.4,868.6 1270.2,864.9 1264.1,868.6 1265.6,861.6 1260.2,856.8 1267.4,856.2" fill="#800000" stroke="#800000" stroke-width="1" stroke-linejoin="round"/><polygon points="1286.3,841.5 1289.2,848.0 1296.3,848.7 1291.0,853.5 1292.5,860.5 1286.3,856.8 1280.2,860.5 1281.7,853.5 1276.4,848.7 1283.5,848.0" fill="#800000" stroke="#800000" stroke-width="1" stroke-linejoin="round"/><polygon points="1302.5,833.3 1305.3,839.9 1312.5,840.6 1307.1,845.3 1308.6,852.3 1302.5,848.7 1296.3,852.3 1297.9,845.3 1292.5,840.6 1299.6,839.9" fill="#800000" stroke="#800000" stroke-width="1" stroke-linejoin="round"/><polygon points="1318.6,825.2 1321.5,831.8 1328.6,832.5 1323.2,837.2 1324.8,844.2 1318.6,840.6 1312.4,844.2 1314.0,837.2 1308.6,832.5 1315.7,831.8" fill="#800000" stroke="#800000" stroke-width="1" stroke-linejoin="round"/><polygon points="1334.7,817.1 1337.6,823.7 1344.7,824.4 1339.3,829.1 1340.9,836.1 1334.7,832.4 1328.6,836.1 1330.1,829.1 1324.7,824.4 1331.9,823.7" fill="#800000" stroke="#800000" stroke-width="1" stroke-linejoin="round"/><polygon points="1350.9,809.0 1353.7,815.6 1360.8,816.2 1355.5,821.0 1357.0,828.0 1350.9,824.3 1344.7,828.0 1346.2,821.0 1340.9,816.2 1348.0,815.6" fill="#800000" stroke="#800000" stroke-width="1" stroke-linejoin="round"/><polygon points="1367.0,800.9 1369.8,807.4 1377.0,808.1 1371.6,812.9 1373.1,819.9 1367.0,816.2 1360.8,819.9 1362.4,812.9 1357.0,808.1 1364.1,807.4" fill="#800000" stroke="#800000" stroke-width="1" stroke-linejoin="round"/><polygon points="1383.1,792.8 1386.0,799.3 1393.1,800.0 1387.7,804.8 1389.3,811.8 1383.1,808.1 1376.9,811.8 1378.5,804.8 1373.1,800.0 1380.2,799.3" fill="#800000" stroke="#800000" stroke-width="1" stroke-linejoin="round"/><polygon points="1399.2,784.7 1402.1,791.2 1409.2,791.9 1403.8,796.7 1405.4,803.6 1399.2,800.0 1393.1,803.6 1394.6,796.7 1389.2,791.9 1396.4,791.2" fill="#800000" stroke="#800000" stroke-width="1" stroke-linejoin="round"/><polygon points="1415.4,776.6 1418.2,783.1 1425.3,783.8 1420.0,788.6 1421.5,795.5 1415.4,791.9 1409.2,795.5 1410.7,788.6 1405.4,783.8 1412.5,783.1" fill="#800000" stroke="#800000" stroke-width="1" stroke-linejoin="round"/><polygon points="1431.5,768.5 1434.3,775.0 1441.5,775.7 1436.1,780.5 1437.6,787.4 1431.5,783.8 1425.3,787.4 1426.9,780.5 1421.5,775.7 1428.6,775.0" fill="#800000" stroke="#800000" stroke-width="1" stroke-linejoin="round"/><polygon points="1447.6,760.4 1450.5,766.9 1457.6,767.6 1452.2,772.4 1453.8,779.4 1447.6,775.7 1441.4,779.4 1443.0,772.4 1437.6,767.6 1444.7,766.9" fill="#800000" stroke="#800000" stroke-width="1" stroke-linejoin="round"/><polygon points="1463.7,752.3 1466.6,758.8 1473.7,759.5 1468.3,764.3 1469.9,771.3 1463.7,767.6 1457.6,771.3 1459.1,764.3 1453.7,759.5 1460.9,758.8" fill="#800000" stroke="#800000" stroke-width="1" stroke-linejoin="round"/><polygon points="1479.8,744.2 1482.7,750.7 1489.8,751.4 1484.5,756.2 1486.0,763.2 1479.8,759.5 1473.7,763.2 1475.2,756.2 1469.9,751.4 1477.0,750.7" fill="#800000" stroke="#800000" stroke-width="1" stroke-linejoin="round"/><polygon points="1496.0,736.1 1498.8,742.7 1506.0,743.3 1500.6,748.1 1502.1,755.1 1496.0,751.4 1489.8,755.1 1491.4,748.1 1486.0,743.3 1493.1,742.7" fill="#800000" stroke="#800000" stroke-width="1" stroke-linejoin="round"/><polygon points="1512.1,728.0 1515.0,734.6 1522.1,735.3 1516.7,740.0 1518.3,747.0 1512.1,743.4 1505.9,747.0 1507.5,740.0 1502.1,735.3 1509.2,734.6" fill="#800000" stroke="#800000" stroke-width="1" stroke-linejoin="round"/><polygon points="1528.2,719.9 1531.1,726.5 1538.2,727.2 1532.8,731.9 1534.4,738.9 1528.2,735.3 1522.1,738.9 1523.6,731.9 1518.2,727.2 1525.4,726.5" fill="#800000" stroke="#800000" stroke-width="1" stroke-linejoin="round"/><polygon points="1544.3,711.8 1547.2,718.4 1554.3,719.1 1549.0,723.8 1550.5,730.8 1544.3,727.2 1538.2,730.8 1539.7,723.8 1534.4,719.1 1541.5,718.4" fill="#800000" stroke="#800000" stroke-width="1" stroke-linejoin="round"/><polygon points="1560.5,703.8 1563.3,710.3 1570.5,711.0 1565.1,715.8 1566.6,722.8 1560.5,719.1 1554.3,722.8 1555.9,715.8 1550.5,711.0 1557.6,710.3" fill="#800000" stroke="#800000" stroke-width="1" stroke-linejoin="round"/><polygon points="1576.6,695.7 1579.5,702.3 1586.6,702.9 1581.2,707.7 1582.8,714.7 1576.6,711.0 1570.4,714.7 1572.0,707.7 1566.6,702.9 1573.7,702.3" fill="#800000" stroke="#800000" stroke-width="1" stroke-linejoin="round"/></g>
<g><polygon points="641.4,1127.9 651.0,1134.9 647.3,1146.2 635.4,1146.2 631.7,1134.9" fill="#808000" stroke="#808000" stroke-width="1" stroke-linejoin="round"/><polygon points="657.5,1120.2 667.1,1127.2 663.4,1138.5 651.5,1138.5 647.8,1127.2" fill="#808000" stroke="#808000" stroke-width="1" stroke-linejoin="round"/><polygon points="673.6,1111.7 683.3,1118.7 679.6,1130.1 667.6,1130.1 663.9,1118.7" fill="#808000" stroke="#808000" stroke-width="1" stroke-linejoin="round"/><polygon points="689.7,1102.9 699.4,1109.9 695.7,1121.3 683.8,1121.3 680.1,1109.9" fill="#808000" stroke="#808000" stroke-width="1" stroke-linejoin="round"/><polygon points="705.9,1093.8 715.5,1100.8 711.8,1112.1 699.9,1112.1 696.2,1100.8" fill="#808000" stroke="#808000" stroke-width="1" stroke-linejoin="round"/><polygon points="722.0,1084.4 731.6,1091.4 727.9,1102.8 716.0,1102.8 712.3,1091.4" fill="#808000" stroke="#808000" stroke-width="1" stroke-linejoin="round"/><polygon points="738.1,1074.9 747.8,1081.9 744.1,1093.3 732.1,1093.3 728.4,1081.9" fill="#808000" stroke="#808000" stroke-width="1" stroke-linejoin="round"/><polygon points="754.2,1065.4 763.9,1072.4 760.2,1083.7 748.3,1083.7 744.6,1072.4" fill="#808000" stroke="#808000" stroke-width="1" stroke-linejoin="round"/><polygon points="770.4,1055.8 780.0,1062.9 776.3,1074.2 764.4,1074.2 760.7,1062.9" fill="#808000" stroke="#808000" stroke-width="1" stroke-linejoin="round"/><polygon points="786.5,1046.4 796.1,1053.4 792.4,1064.8 780.5,1064.8 776.8,1053.4" fill="#808000" stroke="#808000" stroke-width="1" stroke-linejoin="round"/><polygon points="802.6,1037.2 812.3,1044.2 808.6,1055.6 796.6,1055.6 792.9,1044.2" fill="#808000" stroke="#808000" stroke-width="1" stroke-linejoin="round"/><polygon points="818.7,1028.1 828.4,1035.2 824.7,1046.5 812.8,1046.5 809.1,1035.2" fill="#808000" stroke="#808000" stroke-width="1" stroke-linejoin="round"/><polygon points="834.9,1019.0 844.5,1026.0 840.8,1037.4 828.9,1037.4 825.2,1026.0" fill="#808000" stroke="#808000" stroke-width="1" stroke-linejoin="round"/><polygon points="851.0,1009.9 860.6,1016.9 856.9,1028.3 845.0,1028.3 841.3,1016.9" fill="#808000" stroke="#808000" stroke-width="1" stroke-linejoin="round"/><polygon points="867.1,1000.9 876.8,1007.9 873.1,1019.2 861.1,1019.2 857.4,1007.9" fill="#808000" stroke="#808000" stroke-width="1" stroke-linejoin="round"/><polygon points="883.2,991.8 892.9,998.8 889.2,1010.2 877.3,1010.2 873.6,998.8" fill="#808000" stroke="#808000" stroke-width="1" stroke-linejoin="round"/><polygon points="899.4,982.8 909.0,989.8 905.3,1001.2 893.4,1001.2 889.7,989.8" fill="#808000" stroke="#808000" stroke-width="1" stroke-linejoin="round"/><polygon points="915.5,973.9 925.1,980.9 921.4,992.3 909.5,992.3 905.8,980.9" fill="#808000" stroke="#808000" stroke-width="1" stroke-linejoin="round"/><polygon points="931.6,965.1 941.3,972.1 937.6,983.5 925.6,983.5 921.9,972.1" fill="#808000" stroke="#808000" stroke-width="1" stroke-linejoin="round"/><polygon points="947.7,956.4 957.4,963.4 953.7,974.8 941.8,974.8 938.1,963.4" fill="#808000" stroke="#808000" stroke-width="1" stroke-linejoin="round"/><polygon points="963.9,947.8 973.5,954.9 969.8,966.2 957.9,966.2 954.2,954.9" fill="#808000" stroke="#808000" stroke-width="1" stroke-linejoin="round"/><polygon points="980.0,939.4 989.6,946.4 985.9,957.8 974.0,957.8 970.3,946.4" fill="#808000" stroke="#808000" stroke-width="1" stroke-linejoin="round"/><polygon points="996.1,931.1 1005.8,938.1 1002.1,949.5 990.1,949.5 986.4,938.1" fill="#808000" stroke="#808000" stroke-width="1" stroke-linejoin="round"/><polygon points="1012.2,922.9 1021.9,930.0 1018.2,941.3 1006.3,941.3 1002.6,930.0" fill="#808000" stroke="#808000" stroke-width="1" stroke-linejoin="round"/><polygon points="1028.4,914.9 1038.0,921.9 1034.3,933.2 1022.4,933.2 1018.7,921.9" fill="#808000" stroke="#808000" stroke-width="1" stroke-linejoin="round"/><polygon points="1044.5,906.9 1054.1,913.9 1050.4,925.2 1038.5,925.2 1034.8,913.9" fill="#808000" stroke="#808000" stroke-width="1" stroke-linejoin="round"/><polygon points="1060.6,899.0 1070.3,906.0 1066.6,917.3 1054.6,917.3 1050.9,906.0" fill="#808000" stroke="#808000" stroke-width="1" stroke-linejoin="round"/><polygon points="1076.7,891.1 1086.4,898.1 1082.7,909.4 1070.8,909.4 1067.1,898.1" fill="#808000" stroke="#808000" stroke-width="1" stroke-linejoin="round"/><polygon points="1092.8,883.2 1102.5,890.2 1098.8,901.6 1086.9,901.6 1083.2,890.2" fill="#808000" stroke="#808000" stroke-width="1" stroke-linejoin="round"/><polygon points="1109.0,875.4 1118.6,882.4 1114.9,893.7 1103.0,893.7 1099.3,882.4" fill="#808000" stroke="#808000" stroke-width="1" stroke-linejoin="round"/><polygon points="1125.1,867.5 1134.8,874.5 1131.1,885.9 1119.1,885.9 1115.4,874.5" fill="#808000" stroke="#808000" stroke-width="1" stroke-linejoin="round"/><polygon points="1141.2,859.6 1150.9,866.7 1147.2,878.0 1135.3,878.0 1131.6,866.7" fill="#808000" stroke="#808000" stroke-width="1" stroke-linejoin="round"/><polygon points="1157.3,851.7 1167.0,858.7 1163.3,870.1 1151.4,870.1 1147.7,858.7" fill="#808000" stroke="#808000" stroke-width="1" stroke-linejoin="round"/><polygon points="1173.5,843.7 1183.1,850.7 1179.4,862.1 1167.5,862.1 1163.8,850.7" fill="#808000" stroke="#808000" stroke-width="1" stroke-linejoin="round"/><polygon points="1189.6,835.6 1199.3,842.7 1195.6,854.0 1183.6,854.0 1179.9,842.7" fill="#808000" stroke="#808000" stroke-width="1" stroke-linejoin="round"/><polygon points="1205.7,827.5 1215.4,834.5 1211.7,845.8 1199.8,845.8 1196.1,834.5" fill="#808000" stroke="#808000" stroke-width="1" stroke-linejoin="round"/><polygon points="1221.8,819.2 1231.5,826.2 1227.8,837.5 1215.9,837.5 1212.2,826.2" fill="#808000" stroke="#808000" stroke-width="1" stroke-linejoin="round"/><polygon points="1238.0,810.7 1247.6,817.7 1243.9,829.0 1232.0,829.0 1228.3,817.7" fill="#808000" stroke="#808000" stroke-width="1" stroke-linejoin="round"/><polygon points="1254.1,802.0 1263.8,809.0 1260.1,820.4 1248.1,820.4 1244.4,809.0" fill="#808000" stroke="#808000" stroke-width="1" stroke-linejoin="round"/><polygon points="1270.2,793.4 1279.9,800.4 1276.2,811.7 1264.3,811.7 1260.6,800.4" fill="#808000" stroke="#808000" stroke-width="1" stroke-linejoin="round"/><polygon points="1286.3,784.8 1296.0,791.8 1292.3,803.2 1280.4,803.2 1276.7,791.8" fill="#808000" stroke="#808000" stroke-width="1" stroke-linejoin="round"/><polygon points="1302.5,776.5 1312.1,783.5 1308.4,794.8 1296.5,794.8 1292.8,783.5" fill="#808000" stroke="#808000" stroke-width="1" stroke-linejoin="round"/><polygon points="1318.6,768.2 1328.3,775.2 1324.6,786.6 1312.6,786.6 1308.9,775.2" fill="#808000" stroke="#808000" stroke-width="1" stroke-linejoin="round"/><polygon points="1334.7,760.0 1344.4,767.0 1340.7,778.4 1328.8,778.4 1325.1,767.0" fill="#808000" stroke="#808000" stroke-width="1" stroke-linejoin="round"/><polygon points="1350.9,752.0 1360.5,759.0 1356.8,770.3 1344.9,770.3 1341.2,759.0" fill="#808000" stroke="#808000" stroke-width="1" stroke-linejoin="round"/></g>
<g shape-rendering="auto"><circle cx="641.4" cy="1138.0" r="9.3" fill="url(#sg)"/><circle cx="657.5" cy="1128.5" r="9.3" fill="url(#sg)"/><circle cx="673.6" cy="1118.9" r="9.3" fill="url(#sg)"/><circle cx="689.7" cy="1109.4" r="9.3" fill="url(#sg)"/><circle cx="705.9" cy="1100.0" r="9.3" fill="url(#sg)"/><circle cx="722.0" cy="1090.6" r="9.3" fill="url(#sg)"/><circle cx="738.1" cy="1081.2" r="9.3" fill="url(#sg)"/><circle cx="754.2" cy="1071.8" r="9.3" fill="url(#sg)"/><circle cx="770.4" cy="1062.5" r="9.3" fill="url(#sg)"/><circle cx="786.5" cy="1053.3" r="9.3" fill="url(#sg)"/><circle cx="802.6" cy="1044.0" r="9.3" fill="url(#sg)"/><circle cx="818.7" cy="1034.9" r="9.3" fill="url(#sg)"/><circle cx="834.9" cy="1025.7" r="9.3" fill="url(#sg)"/><circle cx="851.0" cy="1016.6" r="9.3" fill="url(#sg)"/><circle cx="867.1" cy="1007.5" r="9.3" fill="url(#sg)"/><circle cx="883.2" cy="998.5" r="9.3" fill="url(#sg)"/><circle cx="899.4" cy="989.5" r="9.3" fill="url(#sg)"/><circle cx="915.5" cy="980.5" r="9.3" fill="url(#sg)"/><circle cx="931.6" cy="971.6" r="9.3" fill="url(#sg)"/><circle cx="947.7" cy="962.7" r="9.3" fill="url(#sg)"/><circle cx="963.9" cy="953.8" r="9.3" fill="url(#sg)"/><circle cx="980.0" cy="945.0" r="9.3" fill="url(#sg)"/><circle cx="996.1" cy="936.2" r="9.3" fill="url(#sg)"/><circle cx="1012.2" cy="927.4" r="9.3" fill="url(#sg)"/><circle cx="1028.4" cy="918.7" r="9.3" fill="url(#sg)"/><circle cx="1044.5" cy="910.1" r="9.3" fill="url(#sg)"/><circle cx="1060.6" cy="901.5" r="9.3" fill="url(#sg)"/><circle cx="1076.7" cy="892.9" r="9.3" fill="url(#sg)"/><circle cx="1092.8" cy="884.4" r="9.3" fill="url(#sg)"/><circle cx="1109.0" cy="875.9" r="9.3" fill="url(#sg)"/><circle cx="1125.1" cy="867.4" r="9.3" fill="url(#sg)"/><circle cx="1141.2" cy="859.0" r="9.3" fill="url(#sg)"/><circle cx="1157.3" cy="850.6" r="9.3" fill="url(#sg)"/><circle cx="1173.5" cy="842.2" r="9.3" fill="url(#sg)"/><circle cx="1189.6" cy="833.9" r="9.3" fill="url(#sg)"/><circle cx="1205.7" cy="825.7" r="9.3" fill="url(#sg)"/></g>
<g><path d="M632.6,1090.0H650.1M641.4,1081.2V1098.8" stroke="#008b8b" stroke-width="1.9" fill="none"/><path d="M648.7,1080.7H666.3M657.5,1071.9V1089.5" stroke="#008b8b" stroke-width="1.9" fill="none"/><path d="M664.8,1071.5H682.4M673.6,1062.7V1080.3" stroke="#008b8b" stroke-width="1.9" fill="none"/><path d="M680.9,1062.3H698.5M689.7,1053.5V1071.1" stroke="#008b8b" stroke-width="1.9" fill="none"/><path d="M697.1,1053.0H714.6M705.9,1044.2V1061.8" stroke="#008b8b" stroke-width="1.9" fill="none"/><path d="M713.2,1043.8H730.8M722.0,1035.0V1052.6" stroke="#008b8b" stroke-width="1.9" fill="none"/><path d="M729.3,1034.5H746.9M738.1,1025.7V1043.3" stroke="#008b8b" stroke-width="1.9" fill="none"/><path d="M745.4,1025.3H763.0M754.2,1016.5V1034.1" stroke="#008b8b" stroke-width="1.9" fill="none"/><path d="M761.6,1016.0H779.1M770.4,1007.2V1024.8" stroke="#008b8b" stroke-width="1.9" fill="none"/><path d="M777.7,1006.7H795.3M786.5,997.9V1015.5" stroke="#008b8b" stroke-width="1.9" fill="none"/><path d="M793.8,997.4H811.4M802.6,988.6V1006.2" stroke="#008b8b" stroke-width="1.9" fill="none"/><path d="M809.9,988.2H827.5M818.7,979.4V997.0" stroke="#008b8b" stroke-width="1.9" fill="none"/><path d="M826.1,978.9H843.7M834.9,970.1V987.7" stroke="#008b8b" stroke-width="1.9" fill="none"/><path d="M842.2,969.6H859.8M851.0,960.8V978.4" stroke="#008b8b" stroke-width="1.9" fill="none"/><path d="M858.3,960.3H875.9M867.1,951.5V969.1" stroke="#008b8b" stroke-width="1.9" fill="none"/><path d="M874.4,951.0H892.0M883.2,942.2V959.8" stroke="#008b8b" stroke-width="1.9" fill="none"/><path d="M890.6,941.7H908.1M899.4,932.9V950.5" stroke="#008b8b" stroke-width="1.9" fill="none"/><path d="M906.7,932.4H924.3M915.5,923.6V941.2" stroke="#008b8b" stroke-width="1.9" fill="none"/><path d="M922.8,923.1H940.4M931.6,914.3V931.9" stroke="#008b8b" stroke-width="1.9" fill="none"/><path d="M938.9,913.8H956.5M947.7,905.0V922.6" stroke="#008b8b" stroke-width="1.9" fill="none"/><path d="M955.1,904.5H972.6M963.9,895.7V913.3" stroke="#008b8b" stroke-width="1.9" fill="none"/><path d="M971.2,895.2H988.8M980.0,886.4V904.0" stroke="#008b8b" stroke-width="1.9" fill="none"/></g>
</g>
<line x1="480.10" y1="1348.70" x2="641.91" y2="1253.01" stroke="#ff0000" stroke-width="7.6" stroke-linecap="round" stroke-dasharray="9.8 17.87" stroke-dashoffset="-12.23"/>
<line x1="480.10" y1="1183.78" x2="641.91" y2="1088.09" stroke="#ff0000" stroke-width="7.6" stroke-linecap="round" stroke-dasharray="9.8 17.87" stroke-dashoffset="-12.23"/>
<g stroke="#000" stroke-width="6" fill="none" stroke-linecap="butt">
<path d="M480.1,32.7V1386"/>
<path d="M465,1365.8H2256.8"/>
<path d="M2253.8,32.7V1386"/>
</g>
<path d="M465,34.9H2256.8" stroke="#000" stroke-width="4.4" fill="none"/>
<g stroke="#000" stroke-width="5.8" fill="none" stroke-linecap="round">
<path d="M455,1299.2H480.1"/>
<path d="M467.5,1232.7H480.1"/>
<path d="M455,1166.1H480.1"/>
<path d="M467.5,1099.6H480.1"/>
<path d="M455,1033.0H480.1"/>
<path d="M467.5,966.4H480.1"/>
<path d="M455,899.9H480.1"/>
<path d="M467.5,833.3H480.1"/>
<path d="M455,766.8H480.1"/>
<path d="M467.5,700.2H480.1"/>
<path d="M455,633.6H480.1"/>
<path d="M467.5,567.1H480.1"/>
<path d="M455,500.5H480.1"/>
<path d="M467.5,434.0H480.1"/>
<path d="M455,367.4H480.1"/>
<path d="M467.5,300.8H480.1"/>
<path d="M455,234.3H480.1"/>
<path d="M467.5,167.7H480.1"/>
<path d="M455,101.2H480.1"/>
<path d="M480.1,1365.8V1391"/>
<path d="M560.7,1365.8V1379"/>
<path d="M641.4,1365.8V1391"/>
<path d="M722.0,1365.8V1379"/>
<path d="M802.6,1365.8V1391"/>
<path d="M883.2,1365.8V1379"/>
<path d="M963.9,1365.8V1391"/>
<path d="M1044.5,1365.8V1379"/>
<path d="M1125.1,1365.8V1391"/>
<path d="M1205.7,1365.8V1379"/>
<path d="M1286.3,1365.8V1391"/>
<path d="M1367.0,1365.8V1379"/>
<path d="M1447.6,1365.8V1391"/>
<path d="M1528.2,1365.8V1379"/>
<path d="M1608.8,1365.8V1391"/>
<path d="M1689.5,1365.8V1379"/>
<path d="M1770.1,1365.8V1391"/>
<path d="M1850.7,1365.8V1379"/>
<path d="M1931.3,1365.8V1391"/>
<path d="M2012.0,1365.8V1379"/>
<path d="M2092.6,1365.8V1391"/>
<path d="M2173.2,1365.8V1379"/>
<path d="M2253.8,1365.8V1391"/>
</g>
<g fill="#000">
<text transform="translate(398.65,1317.14) scale(0.4264,0.4140)" font-size="200">2</text>
<text transform="translate(395.24,1184.02) scale(0.4264,0.4140)" font-size="200">4</text>
<text transform="translate(396.52,1050.90) scale(0.4264,0.4140)" font-size="200">6</text>
<text transform="translate(397.37,917.78) scale(0.4264,0.4140)" font-size="200">8</text>
<text transform="translate(354.73,784.66) scale(0.4264,0.4140)" font-size="200">10</text>
<text transform="translate(356.01,651.54) scale(0.4264,0.4140)" font-size="200">12</text>
<text transform="translate(352.60,518.42) scale(0.4264,0.4140)" font-size="200">14</text>
<text transform="translate(353.87,385.30) scale(0.4264,0.4140)" font-size="200">16</text>
<text transform="translate(354.73,252.18) scale(0.4264,0.4140)" font-size="200">18</text>
<text transform="translate(354.73,119.06) scale(0.4264,0.4140)" font-size="200">20</text>
<text transform="translate(458.57,1465.4) scale(0.4306,0.4140)" font-size="200">0</text>
<text transform="translate(618.75,1465.4) scale(0.4306,0.4140)" font-size="200">1</text>
<text transform="translate(781.50,1465.4) scale(0.4306,0.4140)" font-size="200">2</text>
<text transform="translate(942.11,1465.4) scale(0.4306,0.4140)" font-size="200">3</text>
<text transform="translate(1103.36,1465.4) scale(0.4306,0.4140)" font-size="200">4</text>
<text transform="translate(1263.96,1465.4) scale(0.4306,0.4140)" font-size="200">5</text>
<text transform="translate(1425.64,1465.4) scale(0.4306,0.4140)" font-size="200">6</text>
<text transform="translate(1585.82,1465.4) scale(0.4306,0.4140)" font-size="200">7</text>
<text transform="translate(1748.57,1465.4) scale(0.4306,0.4140)" font-size="200">8</text>
<text transform="translate(1910.25,1465.4) scale(0.4306,0.4140)" font-size="200">9</text>
<text transform="translate(2049.77,1465.4) scale(0.4099,0.4140)" font-size="200">10</text>
<text transform="translate(2211.84,1465.4) scale(0.4099,0.4140)" font-size="200">11</text>
<text transform="translate(1256.01,1616.09) scale(0.4156,0.4793)" font-size="200" font-weight="bold" font-style="italic">y</text>
<text transform="translate(1318.26,1606.33) scale(0.5157,0.4038)" font-size="200" font-weight="bold">(</text>
<text transform="translate(1345.79,1612.93) scale(0.4449,0.4354)" font-size="200" font-weight="bold">cm</text>
<text transform="translate(1460.66,1606.33) scale(0.3904,0.4038)" font-size="200" font-weight="bold">)</text>
<g transform="translate(282.5,918.7) rotate(-90)">
<text transform="translate(0.46,0.00) scale(0.4553,0.4603)" font-size="200" font-weight="bold" font-style="italic">D</text>
<text transform="translate(66.66,29.80) scale(0.2429,0.2717)" font-size="200" font-weight="bold">x</text>
<text transform="translate(115.90,-8.72) scale(0.4000,0.3912)" font-size="200" font-weight="bold">(</text>
<text transform="translate(145.20,-0.21) scale(0.4424,0.4073)" font-size="200" font-weight="bold">cm</text>
<text transform="translate(260.98,-8.72) scale(0.4038,0.3912)" font-size="200" font-weight="bold">)</text>
</g>
<text transform="translate(112.58,1068.40) scale(0.4809,0.4575)" font-size="200">True</text>
<text transform="translate(21.86,1199.30) scale(0.4795,0.4575)" font-size="200">corrosion</text>
<text transform="translate(90.00,1328.30) scale(0.5020,0.4575)" font-size="200">width</text>
<path d="M476.9,1295.6L385,1229" stroke="#000" stroke-width="2.6" fill="none"/>
<polygon points="365.1,1214.5 397.6,1225.7 385.6,1242" fill="#000"/>
<rect x="609.7" y="103.3" width="16.4" height="16.4" fill="#000"/><text transform="translate(738.77,141.00) scale(0.3861,0.4008)" font-size="200" font-style="italic">D</text><text transform="translate(793.82,167.89) scale(0.2392,0.2467)" font-size="200">y</text><text transform="translate(834.10,136.76) scale(0.3903,0.3093)" font-size="200" font-weight="bold">=</text><text transform="translate(891.05,140.61) scale(0.3687,0.3956)" font-size="200">0.1</text><text transform="translate(1003.95,140.86) scale(0.4064,0.3677)" font-size="200">cm</text>
<polygon points="617.9,227.9 607.3,246.7 628.5,246.7" fill="#0000ff" stroke="#0000ff" stroke-width="1" stroke-linejoin="round"/><text transform="translate(738.77,269.90) scale(0.3861,0.4008)" font-size="200" font-style="italic">D</text><text transform="translate(793.82,296.79) scale(0.2392,0.2467)" font-size="200">y</text><text transform="translate(834.10,265.66) scale(0.3903,0.3093)" font-size="200" font-weight="bold">=</text><text transform="translate(890.96,269.51) scale(0.3803,0.3956)" font-size="200">0.3</text><text transform="translate(1003.95,269.76) scale(0.4064,0.3677)" font-size="200">cm</text>
<polygon points="617.9,358.4 629.5,370.0 617.9,381.6 606.3,370.0" fill="#008000" stroke="#008000" stroke-width="1" stroke-linejoin="round"/><text transform="translate(738.77,399.50) scale(0.3861,0.4008)" font-size="200" font-style="italic">D</text><text transform="translate(793.82,426.39) scale(0.2392,0.2467)" font-size="200">y</text><text transform="translate(834.10,395.26) scale(0.3903,0.3093)" font-size="200" font-weight="bold">=</text><text transform="translate(890.96,399.11) scale(0.3801,0.3956)" font-size="200">0.6</text><text transform="translate(1003.95,399.36) scale(0.4064,0.3677)" font-size="200">cm</text>
<circle cx="1202.1" cy="111.5" r="9.25" fill="#ff0000"/><text transform="translate(1322.97,141.00) scale(0.3861,0.4008)" font-size="200" font-style="italic">D</text><text transform="translate(1378.02,167.89) scale(0.2392,0.2467)" font-size="200">y</text><text transform="translate(1418.30,136.76) scale(0.3903,0.3093)" font-size="200" font-weight="bold">=</text><text transform="translate(1476.27,140.61) scale(0.3792,0.3956)" font-size="200">0.2</text><text transform="translate(1588.35,140.86) scale(0.4064,0.3677)" font-size="200">cm</text>
<polygon points="1202.1,252.9 1191.5,234.1 1212.7,234.1" fill="#ff00ff" stroke="#ff00ff" stroke-width="1" stroke-linejoin="round"/><text transform="translate(1322.97,269.90) scale(0.3861,0.4008)" font-size="200" font-style="italic">D</text><text transform="translate(1378.02,296.79) scale(0.2392,0.2467)" font-size="200">y</text><text transform="translate(1418.30,265.66) scale(0.3903,0.3093)" font-size="200" font-weight="bold">=</text><text transform="translate(1476.35,269.51) scale(0.3686,0.3956)" font-size="200">0.4</text><text transform="translate(1588.35,269.76) scale(0.4064,0.3677)" font-size="200">cm</text>
<polygon points="1189.6,370.0 1208.4,359.4 1208.4,380.6" fill="#000080" stroke="#000080" stroke-width="1" stroke-linejoin="round"/><text transform="translate(1322.97,399.50) scale(0.3861,0.4008)" font-size="200" font-style="italic">D</text><text transform="translate(1378.02,426.39) scale(0.2392,0.2467)" font-size="200">y</text><text transform="translate(1418.30,395.26) scale(0.3903,0.3093)" font-size="200" font-weight="bold">=</text><text transform="translate(1476.00,399.50) scale(0.3648,0.4015)" font-size="200">1</text><text transform="translate(1532.05,399.36) scale(0.4064,0.3677)" font-size="200">cm</text>
<polygon points="1235.7,1023.7 1216.9,1013.1 1216.9,1034.3" fill="#8000ff" stroke="#8000ff" stroke-width="1" stroke-linejoin="round"/><text transform="translate(1344.07,1052.30) scale(0.3861,0.4008)" font-size="200" font-style="italic">D</text><text transform="translate(1399.12,1079.19) scale(0.2392,0.2467)" font-size="200">y</text><text transform="translate(1439.40,1048.06) scale(0.3903,0.3093)" font-size="200" font-weight="bold">=</text><text transform="translate(1497.07,1051.90) scale(0.3782,0.3985)" font-size="200">1.5</text><text transform="translate(1609.55,1052.16) scale(0.4064,0.3677)" font-size="200">cm</text>
<polygon points="1223.2,1143.4 1226.1,1150.0 1233.2,1150.7 1227.8,1155.4 1229.4,1162.4 1223.2,1158.8 1217.0,1162.4 1218.6,1155.4 1213.2,1150.7 1220.3,1150.0" fill="#800000" stroke="#800000" stroke-width="1" stroke-linejoin="round"/><text transform="translate(1344.07,1182.50) scale(0.3861,0.4008)" font-size="200" font-style="italic">D</text><text transform="translate(1399.12,1209.39) scale(0.2392,0.2467)" font-size="200">y</text><text transform="translate(1439.40,1178.26) scale(0.3903,0.3093)" font-size="200" font-weight="bold">=</text><text transform="translate(1496.13,1182.50) scale(0.4072,0.4015)" font-size="200">3</text><text transform="translate(1553.25,1182.36) scale(0.4064,0.3677)" font-size="200">cm</text>
<circle cx="1223.2" cy="1282.3" r="9.3" fill="url(#sg)"/><text transform="translate(1344.07,1310.90) scale(0.3861,0.4008)" font-size="200" font-style="italic">D</text><text transform="translate(1399.12,1337.79) scale(0.2392,0.2467)" font-size="200">y</text><text transform="translate(1439.40,1306.66) scale(0.3903,0.3093)" font-size="200" font-weight="bold">=</text><text transform="translate(1495.19,1310.89) scale(0.4175,0.4045)" font-size="200">5</text><text transform="translate(1553.25,1310.76) scale(0.4064,0.3677)" font-size="200">cm</text>
<polygon points="1808.0,1014.2 1816.7,1018.9 1816.7,1028.4 1808.0,1033.2 1799.3,1028.4 1799.3,1018.9" fill="#800080" stroke="#800080" stroke-width="1" stroke-linejoin="round"/><text transform="translate(1928.87,1052.30) scale(0.3861,0.4008)" font-size="200" font-style="italic">D</text><text transform="translate(1983.92,1079.19) scale(0.2392,0.2467)" font-size="200">y</text><text transform="translate(2024.20,1048.06) scale(0.3903,0.3093)" font-size="200" font-weight="bold">=</text><text transform="translate(2079.70,1053.10) scale(0.4225,0.4076)" font-size="200">2</text><text transform="translate(2138.75,1052.16) scale(0.4064,0.3677)" font-size="200">cm</text>
<polygon points="1752.1,1143.8 1761.8,1150.8 1758.1,1162.1 1746.1,1162.1 1742.4,1150.8" fill="#808000" stroke="#808000" stroke-width="1" stroke-linejoin="round"/><text transform="translate(1872.97,1182.50) scale(0.3861,0.4008)" font-size="200" font-style="italic">D</text><text transform="translate(1928.02,1209.39) scale(0.2392,0.2467)" font-size="200">y</text><text transform="translate(1968.30,1178.26) scale(0.3903,0.3093)" font-size="200" font-weight="bold">=</text><text transform="translate(2026.39,1182.50) scale(0.3774,0.4015)" font-size="200">4</text><text transform="translate(2082.65,1182.36) scale(0.4064,0.3677)" font-size="200">cm</text>
<path d="M1743.3,1282.3H1760.9M1752.1,1273.5V1291.1" stroke="#008b8b" stroke-width="1.9" fill="none"/><text transform="translate(1872.97,1310.90) scale(0.3861,0.4008)" font-size="200" font-style="italic">D</text><text transform="translate(1928.02,1337.79) scale(0.2392,0.2467)" font-size="200">y</text><text transform="translate(1968.30,1306.66) scale(0.3903,0.3093)" font-size="200" font-weight="bold">=</text><text transform="translate(2026.49,1310.90) scale(0.3884,0.4015)" font-size="200">6</text><text transform="translate(2082.65,1310.76) scale(0.4064,0.3677)" font-size="200">cm</text>
</g>
</svg></body></html>
